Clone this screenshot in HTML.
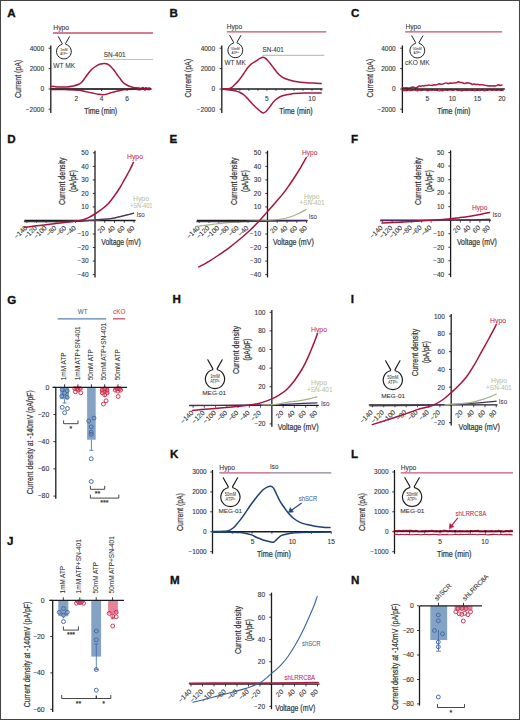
<!DOCTYPE html>
<html><head><meta charset="utf-8"><style>
html,body{margin:0;padding:0;background:#fff;}
body{width:520px;height:720px;overflow:hidden;}
svg{display:block;font-family:"Liberation Sans", sans-serif;}
</style></head><body>
<svg width="520" height="720" viewBox="0 0 520 720">
<rect x="0" y="0" width="520" height="720" fill="#fff"/>
<text x="7.3" y="17" font-size="11.6" fill="#111" stroke="#111" stroke-width="0.35" font-weight="bold">A</text>
<text x="53.3" y="30" font-size="6.5" fill="#333" stroke="#333" stroke-width="0.08" textLength="15.8" lengthAdjust="spacingAndGlyphs">Hypo</text>
<line x1="53" y1="33" x2="153" y2="33" stroke="#c9506b" stroke-width="1.3" />
<text x="103.8" y="57" font-size="6.5" fill="#333" stroke="#333" stroke-width="0.08" textLength="21.8" lengthAdjust="spacingAndGlyphs">SN-401</text>
<line x1="103.8" y1="59.5" x2="153" y2="59.5" stroke="#c0c4b4" stroke-width="1.2" />
<path d="M58.36,36.72 L62.21,43.49 L61.98,44.36 A7.39,7.39 0 1 0 65.83,44.36 L65.59,43.49 L69.44,36.72" stroke="#1a1a1a" stroke-width="0.9774999999999999" fill="none" stroke-linejoin="round" stroke-linecap="round" stroke-linecap="butt"/>
<text x="63.9" y="50.81" font-size="3.46" fill="#444" stroke="#444" stroke-width="0.05" text-anchor="middle" textLength="7.39" lengthAdjust="spacingAndGlyphs">1mM</text>
<text x="63.9" y="54.81" font-size="3.46" fill="#444" stroke="#444" stroke-width="0.05" text-anchor="middle" textLength="7.39" lengthAdjust="spacingAndGlyphs">ATPᴵⁿ</text>
<text x="53.2" y="67.7" font-size="6.6" fill="#333" stroke="#333" stroke-width="0.05" textLength="22" lengthAdjust="spacingAndGlyphs">WT MK</text>
<line x1="50.8" y1="45.5" x2="50.8" y2="113" stroke="#1c1c1c" stroke-width="1.3" />
<line x1="48.6" y1="48.2" x2="50.8" y2="48.2" stroke="#1c1c1c" stroke-width="0.9" />
<text x="44.1" y="50.55" font-size="6.5" fill="#333" stroke="#333" stroke-width="0.1" text-anchor="end">4000</text>
<line x1="48.6" y1="68.6" x2="50.8" y2="68.6" stroke="#1c1c1c" stroke-width="0.9" />
<text x="44.1" y="70.95" font-size="6.5" fill="#333" stroke="#333" stroke-width="0.1" text-anchor="end">2000</text>
<line x1="48.6" y1="89" x2="50.8" y2="89" stroke="#1c1c1c" stroke-width="0.9" />
<text x="44.1" y="91.35" font-size="6.5" fill="#333" stroke="#333" stroke-width="0.1" text-anchor="end">0</text>
<line x1="48.6" y1="109.2" x2="50.8" y2="109.2" stroke="#1c1c1c" stroke-width="0.9" />
<text x="44.1" y="111.55" font-size="6.5" fill="#333" stroke="#333" stroke-width="0.1" text-anchor="end">−2000</text>
<text transform="translate(20.9 78.9) rotate(-90)" font-size="9" fill="#333" stroke="#333" stroke-width="0.22" text-anchor="middle" textLength="38" lengthAdjust="spacingAndGlyphs">Current (pA)</text>
<line x1="50.8" y1="89" x2="150" y2="89" stroke="#1c1c1c" stroke-width="1.3" />
<line x1="76.3" y1="89" x2="76.3" y2="91" stroke="#1c1c1c" stroke-width="0.9" />
<text x="76.3" y="101" font-size="6.6" fill="#333" stroke="#333" stroke-width="0.1" text-anchor="middle">2</text>
<line x1="101.6" y1="89" x2="101.6" y2="91" stroke="#1c1c1c" stroke-width="0.9" />
<text x="101.6" y="101" font-size="6.6" fill="#333" stroke="#333" stroke-width="0.1" text-anchor="middle">4</text>
<line x1="127" y1="89" x2="127" y2="91" stroke="#1c1c1c" stroke-width="0.9" />
<text x="127" y="101" font-size="6.6" fill="#333" stroke="#333" stroke-width="0.1" text-anchor="middle">6</text>
<text x="100.7" y="114.2" font-size="8.7" fill="#333" stroke="#333" stroke-width="0.22" text-anchor="middle" textLength="32.9" lengthAdjust="spacingAndGlyphs">Time (min)</text>
<path d="M50.8,86.3 C51.42,86.35 53.2,86.5 54.5,86.6 C55.8,86.7 56.68,86.85 58.6,86.9 C60.52,86.95 63.53,87.07 66,86.9 C68.47,86.73 71.28,86.33 73.4,85.9 C75.52,85.47 77.28,84.95 78.7,84.3 C80.12,83.65 80.85,83.07 81.9,82 C82.95,80.93 83.95,79.32 85,77.9 C86.05,76.48 86.97,75.02 88.2,73.5 C89.43,71.98 90.82,70.2 92.4,68.8 C93.98,67.4 96.27,65.92 97.7,65.1 C99.13,64.28 99.95,64.17 101,63.9 C102.05,63.63 103.08,63.52 104,63.5 C104.92,63.48 105.7,63.57 106.5,63.8 C107.3,64.03 108.02,64.38 108.8,64.9 C109.58,65.42 110.4,66.08 111.2,66.9 C112,67.72 112.72,68.65 113.6,69.8 C114.48,70.95 115.45,72.38 116.5,73.8 C117.55,75.22 118.9,76.97 119.9,78.3 C120.9,79.63 121.62,80.82 122.5,81.8 C123.38,82.78 124.15,83.5 125.2,84.2 C126.25,84.9 127.57,85.5 128.8,86 C130.03,86.5 131.4,86.87 132.6,87.2 C133.8,87.53 134.93,87.83 136,88 C137.07,88.17 138.17,88.05 139,88.2 C139.83,88.35 140.33,89 141,88.9 C141.67,88.8 142.42,87.5 143,87.6 C143.58,87.7 144,89.47 144.5,89.5 C145,89.53 145.5,87.78 146,87.8 C146.5,87.82 147,89.57 147.5,89.6 C148,89.63 148.5,88.07 149,88 C149.5,87.93 150.25,89 150.5,89.2" stroke="#a8173c" stroke-width="1.5" fill="none" stroke-linejoin="round" stroke-linecap="round" />
<path d="M50.8,89.4 C53.17,89.43 60.7,89.52 65,89.6 C69.3,89.68 73.93,89.73 76.6,89.9 C79.27,90.07 79.6,90.33 81,90.6 C82.4,90.87 83.1,91.08 85,91.5 C86.9,91.92 90.23,92.65 92.4,93.1 C94.57,93.55 96.23,93.93 98,94.2 C99.77,94.47 101.67,94.68 103,94.7 C104.33,94.72 105,94.52 106,94.3 C107,94.08 108,93.72 109,93.4 C110,93.08 110.88,92.73 112,92.4 C113.12,92.07 114.2,91.77 115.7,91.4 C117.2,91.03 119.23,90.5 121,90.2 C122.77,89.9 123.97,89.77 126.3,89.6 C128.63,89.43 132.72,89.17 135,89.2 C137.28,89.23 138.67,89.93 140,89.8 C141.33,89.67 142.17,88.37 143,88.4 C143.83,88.43 144.33,89.98 145,90 C145.67,90.02 146.33,88.53 147,88.5 C147.67,88.47 148.42,89.75 149,89.8 C149.58,89.85 150.25,88.97 150.5,88.8" stroke="#a8173c" stroke-width="1.5" fill="none" stroke-linejoin="round" stroke-linecap="round" />
<line x1="50.8" y1="89" x2="150" y2="89" stroke="#222" stroke-width="0.9" />
<path d="M136,88.6 L150.5,88.9" stroke="#8e1533" stroke-width="2.2" fill="none" stroke-linejoin="round" stroke-linecap="round" />
<text x="169.5" y="17" font-size="11.6" fill="#111" stroke="#111" stroke-width="0.35" font-weight="bold">B</text>
<text x="226.8" y="28.8" font-size="6.5" fill="#333" stroke="#333" stroke-width="0.08" textLength="15.4" lengthAdjust="spacingAndGlyphs">Hypo</text>
<line x1="226.8" y1="31.9" x2="326.3" y2="31.9" stroke="#c9506b" stroke-width="1.3" />
<text x="262.5" y="52.4" font-size="6.5" fill="#333" stroke="#333" stroke-width="0.08" textLength="21.3" lengthAdjust="spacingAndGlyphs">SN-401</text>
<line x1="262.5" y1="55.4" x2="324.3" y2="55.4" stroke="#c0c4b4" stroke-width="1.2" />
<path d="M229.76,35.52 L233.61,42.29 L233.38,43.16 A7.39,7.39 0 1 0 237.23,43.16 L236.99,42.29 L240.84,35.52" stroke="#1a1a1a" stroke-width="0.9774999999999999" fill="none" stroke-linejoin="round" stroke-linecap="round" stroke-linecap="butt"/>
<text x="235.3" y="49.61" font-size="3.46" fill="#444" stroke="#444" stroke-width="0.05" text-anchor="middle" textLength="8.62" lengthAdjust="spacingAndGlyphs">50mM</text>
<text x="235.3" y="53.61" font-size="3.46" fill="#444" stroke="#444" stroke-width="0.05" text-anchor="middle" textLength="7.39" lengthAdjust="spacingAndGlyphs">ATPᴵⁿ</text>
<text x="224.4" y="64.7" font-size="6.6" fill="#333" stroke="#333" stroke-width="0.05" textLength="21.4" lengthAdjust="spacingAndGlyphs">WT MK</text>
<line x1="221.8" y1="45.5" x2="221.8" y2="113" stroke="#1c1c1c" stroke-width="1.3" />
<line x1="219.6" y1="48.2" x2="221.8" y2="48.2" stroke="#1c1c1c" stroke-width="0.9" />
<text x="215.1" y="50.55" font-size="6.5" fill="#333" stroke="#333" stroke-width="0.1" text-anchor="end">4000</text>
<line x1="219.6" y1="68.6" x2="221.8" y2="68.6" stroke="#1c1c1c" stroke-width="0.9" />
<text x="215.1" y="70.95" font-size="6.5" fill="#333" stroke="#333" stroke-width="0.1" text-anchor="end">2000</text>
<line x1="219.6" y1="89" x2="221.8" y2="89" stroke="#1c1c1c" stroke-width="0.9" />
<text x="215.1" y="91.35" font-size="6.5" fill="#333" stroke="#333" stroke-width="0.1" text-anchor="end">0</text>
<line x1="219.6" y1="109.2" x2="221.8" y2="109.2" stroke="#1c1c1c" stroke-width="0.9" />
<text x="215.1" y="111.55" font-size="6.5" fill="#333" stroke="#333" stroke-width="0.1" text-anchor="end">−2000</text>
<text transform="translate(191.3 78.2) rotate(-90)" font-size="9" fill="#333" stroke="#333" stroke-width="0.22" text-anchor="middle" textLength="38.6" lengthAdjust="spacingAndGlyphs">Current (pA)</text>
<line x1="221.8" y1="89" x2="322.5" y2="89" stroke="#1c1c1c" stroke-width="1.3" />
<line x1="221.8" y1="89" x2="221.8" y2="90.8" stroke="#1c1c1c" stroke-width="0.8" />
<line x1="230.82" y1="89" x2="230.82" y2="90.8" stroke="#1c1c1c" stroke-width="0.8" />
<line x1="239.84" y1="89" x2="239.84" y2="90.8" stroke="#1c1c1c" stroke-width="0.8" />
<line x1="248.86" y1="89" x2="248.86" y2="90.8" stroke="#1c1c1c" stroke-width="0.8" />
<line x1="257.88" y1="89" x2="257.88" y2="90.8" stroke="#1c1c1c" stroke-width="0.8" />
<line x1="266.9" y1="89" x2="266.9" y2="90.8" stroke="#1c1c1c" stroke-width="0.8" />
<line x1="275.92" y1="89" x2="275.92" y2="90.8" stroke="#1c1c1c" stroke-width="0.8" />
<line x1="284.94" y1="89" x2="284.94" y2="90.8" stroke="#1c1c1c" stroke-width="0.8" />
<line x1="293.96" y1="89" x2="293.96" y2="90.8" stroke="#1c1c1c" stroke-width="0.8" />
<line x1="302.98" y1="89" x2="302.98" y2="90.8" stroke="#1c1c1c" stroke-width="0.8" />
<line x1="312" y1="89" x2="312" y2="90.8" stroke="#1c1c1c" stroke-width="0.8" />
<line x1="321.02" y1="89" x2="321.02" y2="90.8" stroke="#1c1c1c" stroke-width="0.8" />
<text x="266.9" y="101" font-size="6.6" fill="#333" stroke="#333" stroke-width="0.1" text-anchor="middle">5</text>
<text x="312" y="101" font-size="6.6" fill="#333" stroke="#333" stroke-width="0.1" text-anchor="middle">10</text>
<text x="296" y="113.6" font-size="8.7" fill="#333" stroke="#333" stroke-width="0.22" text-anchor="middle" textLength="33.3" lengthAdjust="spacingAndGlyphs">Time (min)</text>
<path d="M221.8,89 C222.33,88.98 223.88,88.95 225,88.9 C226.12,88.85 227.5,88.85 228.5,88.7 C229.5,88.55 230.12,88.52 231,88 C231.88,87.48 232.55,86.8 233.8,85.6 C235.05,84.4 236.95,82.65 238.5,80.8 C240.05,78.95 241.57,76.67 243.1,74.5 C244.63,72.33 246.35,69.52 247.7,67.8 C249.05,66.08 249.85,65.3 251.2,64.2 C252.55,63.1 254.33,62.17 255.8,61.2 C257.27,60.23 258.78,59.07 260,58.4 C261.22,57.73 262.07,57.12 263.1,57.2 C264.13,57.28 265.05,57.9 266.2,58.9 C267.35,59.9 268.73,61.65 270,63.2 C271.27,64.75 272.55,66.57 273.8,68.2 C275.05,69.83 276.27,71.65 277.5,73 C278.73,74.35 279.95,75.38 281.2,76.3 C282.45,77.22 283.33,77.8 285,78.5 C286.67,79.2 289.12,79.95 291.2,80.5 C293.28,81.05 295.4,81.45 297.5,81.8 C299.6,82.15 301.72,82.4 303.8,82.6 C305.88,82.8 307.93,82.9 310,83 C312.07,83.1 314.33,83.12 316.2,83.2 C318.07,83.28 320.37,83.45 321.2,83.5" stroke="#a8173c" stroke-width="1.5" fill="none" stroke-linejoin="round" stroke-linecap="round" />
<path d="M221.8,89.2 C223.17,89.33 227.63,89.7 230,90 C232.37,90.3 234.33,90.58 236,91 C237.67,91.42 238.67,91.83 240,92.5 C241.33,93.17 242.67,93.92 244,95 C245.33,96.08 246.67,97.58 248,99 C249.33,100.42 250.67,102.08 252,103.5 C253.33,104.92 254.67,106.25 256,107.5 C257.33,108.75 258.83,110.1 260,111 C261.17,111.9 261.97,112.87 263,112.9 C264.03,112.93 265.03,112.25 266.2,111.2 C267.37,110.15 268.73,108.2 270,106.6 C271.27,105 272.55,102.98 273.8,101.6 C275.05,100.22 276.05,99.27 277.5,98.3 C278.95,97.33 280.22,96.53 282.5,95.8 C284.78,95.07 287.65,94.35 291.2,93.9 C294.75,93.45 298.8,93.25 303.8,93.1 C308.8,92.95 318.3,93.02 321.2,93" stroke="#a8173c" stroke-width="1.5" fill="none" stroke-linejoin="round" stroke-linecap="round" />
<text x="351" y="17" font-size="11.6" fill="#111" stroke="#111" stroke-width="0.35" font-weight="bold">C</text>
<text x="405.5" y="28.7" font-size="6.5" fill="#333" stroke="#333" stroke-width="0.08" textLength="15.5" lengthAdjust="spacingAndGlyphs">Hypo</text>
<line x1="405.2" y1="31.8" x2="502" y2="31.8" stroke="#c9506b" stroke-width="1.3" />
<path d="M411.76,35.82 L415.61,42.59 L415.38,43.46 A7.39,7.39 0 1 0 419.23,43.46 L418.99,42.59 L422.84,35.82" stroke="#1a1a1a" stroke-width="0.9774999999999999" fill="none" stroke-linejoin="round" stroke-linecap="round" stroke-linecap="butt"/>
<text x="417.3" y="49.91" font-size="3.46" fill="#444" stroke="#444" stroke-width="0.05" text-anchor="middle" textLength="8.62" lengthAdjust="spacingAndGlyphs">50mM</text>
<text x="417.3" y="53.91" font-size="3.46" fill="#444" stroke="#444" stroke-width="0.05" text-anchor="middle" textLength="7.39" lengthAdjust="spacingAndGlyphs">ATPᴵⁿ</text>
<text x="405" y="64.7" font-size="6.6" fill="#333" stroke="#333" stroke-width="0.05" textLength="24.6" lengthAdjust="spacingAndGlyphs">cKO MK</text>
<line x1="402.4" y1="45.5" x2="402.4" y2="113" stroke="#1c1c1c" stroke-width="1.3" />
<line x1="400.2" y1="48.2" x2="402.4" y2="48.2" stroke="#1c1c1c" stroke-width="0.9" />
<text x="395.7" y="50.55" font-size="6.5" fill="#333" stroke="#333" stroke-width="0.1" text-anchor="end">4000</text>
<line x1="400.2" y1="68.6" x2="402.4" y2="68.6" stroke="#1c1c1c" stroke-width="0.9" />
<text x="395.7" y="70.95" font-size="6.5" fill="#333" stroke="#333" stroke-width="0.1" text-anchor="end">2000</text>
<line x1="400.2" y1="89" x2="402.4" y2="89" stroke="#1c1c1c" stroke-width="0.9" />
<text x="395.7" y="91.35" font-size="6.5" fill="#333" stroke="#333" stroke-width="0.1" text-anchor="end">0</text>
<line x1="400.2" y1="109.2" x2="402.4" y2="109.2" stroke="#1c1c1c" stroke-width="0.9" />
<text x="395.7" y="111.55" font-size="6.5" fill="#333" stroke="#333" stroke-width="0.1" text-anchor="end">−2000</text>
<text transform="translate(372.8 78.2) rotate(-90)" font-size="9" fill="#333" stroke="#333" stroke-width="0.22" text-anchor="middle" textLength="38.6" lengthAdjust="spacingAndGlyphs">Current (pA)</text>
<path d="M402.3,87.59 L404.23,87.93 L406.15,87.69 L408.07,87.95 L410,87.95 L411.85,87.23 L413.7,87.12 L415.55,88.05 L417.4,87.31 L419.2,85.88 L420.6,86.39 L422.22,85.66 L423.83,86 L425.45,85.47 L427.07,85.57 L428.68,84.88 L430.3,85.36 L432.08,85.44 L433.87,84.83 L435.65,84.89 L437.43,84.61 L439.22,83.68 L441,84.31 L442.8,83.93 L444.6,83.39 L446.4,82.89 L448.2,83.71 L450,83.05 L451.8,83.16 L453.43,83.1 L455.05,82.66 L456.68,82.66 L458.3,81.77 L460.02,82.54 L461.74,82.39 L463.46,83.26 L465.18,83.47 L466.9,82.82 L468.7,83.08 L470.5,83.39 L472.3,84.51 L474.1,84.09 L475.9,84.54 L477.7,84.36 L479.5,84.76 L481.3,84.76 L483.1,84.87 L484.9,85.3 L486.7,85.45 L488.5,85.99 L490.12,85.69 L491.75,85.96 L493.38,85.85 L495,85.99 L496.75,85.51 L498.5,84.8 L500.25,85.53 L502,85" stroke="#b81a3c" stroke-width="1.5" fill="none" stroke-linejoin="round" stroke-linecap="round" />
<path d="M402.3,90.76 L403.85,90.7 L405.4,90.37 L406.95,90.51 L408.5,90.01 L410.05,90.63 L411.6,90.37 L413.15,90.08 L414.7,89.86 L416.25,90.65 L417.8,90.79 L419.35,89.89 L420.9,90.6 L422.45,90.21 L424,89.95 L425.55,90.09 L427.1,90.57 L428.65,90.67 L430.2,89.84 L431.75,90.41 L433.3,89.84 L434.85,90.52 L436.4,90.13 L437.95,90.68 L439.5,90.78 L441.05,90.31 L442.6,90.8 L444.15,90.11 L445.7,89.88 L447.25,90.4 L448.8,89.83 L450.35,90 L451.9,90.21 L453.45,90.41 L455,89.96 L456.55,89.84 L458.1,90.67 L459.65,90.11 L461.2,90.76 L462.75,90.7 L464.3,90.18 L465.85,90.26 L467.4,90.32 L468.95,90.44 L470.5,90.4 L472.05,90.36 L473.6,90.42 L475.15,90.74 L476.7,90.31 L478.25,90.23 L479.8,90.52 L481.35,90.04 L482.9,90.1 L484.45,90.78 L486,90.32 L487.55,90.35 L489.1,89.81 L490.65,90.22 L492.2,90.38 L493.75,89.82 L495.3,90.42 L496.85,90.43 L498.4,89.86 L499.95,90.43 L501.5,90.27 L503.05,90.48" stroke="#b81a3c" stroke-width="1.3" fill="none" stroke-linejoin="round" stroke-linecap="round" />
<line x1="402.4" y1="89" x2="504.8" y2="89" stroke="#1c1c1c" stroke-width="1.5" />
<line x1="402.4" y1="89" x2="402.4" y2="90.6" stroke="#1c1c1c" stroke-width="0.7" />
<line x1="407.38" y1="89" x2="407.38" y2="90.6" stroke="#1c1c1c" stroke-width="0.7" />
<line x1="412.36" y1="89" x2="412.36" y2="90.6" stroke="#1c1c1c" stroke-width="0.7" />
<line x1="417.34" y1="89" x2="417.34" y2="90.6" stroke="#1c1c1c" stroke-width="0.7" />
<line x1="422.32" y1="89" x2="422.32" y2="90.6" stroke="#1c1c1c" stroke-width="0.7" />
<line x1="427.3" y1="89" x2="427.3" y2="90.6" stroke="#1c1c1c" stroke-width="0.7" />
<line x1="432.28" y1="89" x2="432.28" y2="90.6" stroke="#1c1c1c" stroke-width="0.7" />
<line x1="437.26" y1="89" x2="437.26" y2="90.6" stroke="#1c1c1c" stroke-width="0.7" />
<line x1="442.24" y1="89" x2="442.24" y2="90.6" stroke="#1c1c1c" stroke-width="0.7" />
<line x1="447.22" y1="89" x2="447.22" y2="90.6" stroke="#1c1c1c" stroke-width="0.7" />
<line x1="452.2" y1="89" x2="452.2" y2="90.6" stroke="#1c1c1c" stroke-width="0.7" />
<line x1="457.18" y1="89" x2="457.18" y2="90.6" stroke="#1c1c1c" stroke-width="0.7" />
<line x1="462.16" y1="89" x2="462.16" y2="90.6" stroke="#1c1c1c" stroke-width="0.7" />
<line x1="467.14" y1="89" x2="467.14" y2="90.6" stroke="#1c1c1c" stroke-width="0.7" />
<line x1="472.12" y1="89" x2="472.12" y2="90.6" stroke="#1c1c1c" stroke-width="0.7" />
<line x1="477.1" y1="89" x2="477.1" y2="90.6" stroke="#1c1c1c" stroke-width="0.7" />
<line x1="482.08" y1="89" x2="482.08" y2="90.6" stroke="#1c1c1c" stroke-width="0.7" />
<line x1="487.06" y1="89" x2="487.06" y2="90.6" stroke="#1c1c1c" stroke-width="0.7" />
<line x1="492.04" y1="89" x2="492.04" y2="90.6" stroke="#1c1c1c" stroke-width="0.7" />
<line x1="497.02" y1="89" x2="497.02" y2="90.6" stroke="#1c1c1c" stroke-width="0.7" />
<line x1="502" y1="89" x2="502" y2="90.6" stroke="#1c1c1c" stroke-width="0.7" />
<text x="427.3" y="101" font-size="6.6" fill="#333" stroke="#333" stroke-width="0.1" text-anchor="middle">5</text>
<text x="452.3" y="101" font-size="6.6" fill="#333" stroke="#333" stroke-width="0.1" text-anchor="middle">10</text>
<text x="477.5" y="101" font-size="6.6" fill="#333" stroke="#333" stroke-width="0.1" text-anchor="middle">15</text>
<text x="501.8" y="101" font-size="6.6" fill="#333" stroke="#333" stroke-width="0.1" text-anchor="middle">20</text>
<text x="453.8" y="113.6" font-size="8.7" fill="#333" stroke="#333" stroke-width="0.22" text-anchor="middle" textLength="33.3" lengthAdjust="spacingAndGlyphs">Time (min)</text>
<text x="7.3" y="143" font-size="11.6" fill="#111" stroke="#111" stroke-width="0.35" font-weight="bold">D</text>
<line x1="95" y1="150.65" x2="95" y2="277.42" stroke="#1c1c1c" stroke-width="1.3" />
<line x1="92.8" y1="152.85" x2="95" y2="152.85" stroke="#1c1c1c" stroke-width="0.9" />
<text x="88.6" y="155.2" font-size="6.5" fill="#333" stroke="#333" stroke-width="0.1" text-anchor="end">50</text>
<line x1="92.8" y1="166.38" x2="95" y2="166.38" stroke="#1c1c1c" stroke-width="0.9" />
<text x="88.6" y="168.73" font-size="6.5" fill="#333" stroke="#333" stroke-width="0.1" text-anchor="end">40</text>
<line x1="92.8" y1="179.91" x2="95" y2="179.91" stroke="#1c1c1c" stroke-width="0.9" />
<text x="88.6" y="182.26" font-size="6.5" fill="#333" stroke="#333" stroke-width="0.1" text-anchor="end">30</text>
<line x1="92.8" y1="193.44" x2="95" y2="193.44" stroke="#1c1c1c" stroke-width="0.9" />
<text x="88.6" y="195.79" font-size="6.5" fill="#333" stroke="#333" stroke-width="0.1" text-anchor="end">20</text>
<line x1="92.8" y1="206.97" x2="95" y2="206.97" stroke="#1c1c1c" stroke-width="0.9" />
<text x="88.6" y="209.32" font-size="6.5" fill="#333" stroke="#333" stroke-width="0.1" text-anchor="end">10</text>
<line x1="92.8" y1="220.5" x2="95" y2="220.5" stroke="#1c1c1c" stroke-width="0.9" />
<line x1="92.8" y1="234.03" x2="95" y2="234.03" stroke="#1c1c1c" stroke-width="0.9" />
<text x="88.6" y="236.38" font-size="6.5" fill="#333" stroke="#333" stroke-width="0.1" text-anchor="end">−10</text>
<line x1="92.8" y1="247.56" x2="95" y2="247.56" stroke="#1c1c1c" stroke-width="0.9" />
<text x="88.6" y="249.91" font-size="6.5" fill="#333" stroke="#333" stroke-width="0.1" text-anchor="end">−20</text>
<line x1="92.8" y1="261.09" x2="95" y2="261.09" stroke="#1c1c1c" stroke-width="0.9" />
<text x="88.6" y="263.44" font-size="6.5" fill="#333" stroke="#333" stroke-width="0.1" text-anchor="end">−30</text>
<line x1="92.8" y1="274.62" x2="95" y2="274.62" stroke="#1c1c1c" stroke-width="0.9" />
<text x="88.6" y="276.97" font-size="6.5" fill="#333" stroke="#333" stroke-width="0.1" text-anchor="end">−40</text>
<line x1="24.4" y1="220.5" x2="135.5" y2="220.5" stroke="#1c1c1c" stroke-width="1.3" />
<line x1="26.75" y1="220.5" x2="26.75" y2="222.9" stroke="#1c1c1c" stroke-width="0.8" />
<text transform="translate(27.55 228.5) rotate(-45)" font-size="6.8" fill="#333" stroke="#333" stroke-width="0.07" text-anchor="end">−140</text>
<line x1="36.5" y1="220.5" x2="36.5" y2="222.9" stroke="#1c1c1c" stroke-width="0.8" />
<text transform="translate(37.3 228.5) rotate(-45)" font-size="6.8" fill="#333" stroke="#333" stroke-width="0.07" text-anchor="end">−120</text>
<line x1="46.25" y1="220.5" x2="46.25" y2="222.9" stroke="#1c1c1c" stroke-width="0.8" />
<text transform="translate(47.05 228.5) rotate(-45)" font-size="6.8" fill="#333" stroke="#333" stroke-width="0.07" text-anchor="end">−100</text>
<line x1="56" y1="220.5" x2="56" y2="222.9" stroke="#1c1c1c" stroke-width="0.8" />
<text transform="translate(56.8 228.5) rotate(-45)" font-size="6.8" fill="#333" stroke="#333" stroke-width="0.07" text-anchor="end">−80</text>
<line x1="65.75" y1="220.5" x2="65.75" y2="222.9" stroke="#1c1c1c" stroke-width="0.8" />
<text transform="translate(66.55 228.5) rotate(-45)" font-size="6.8" fill="#333" stroke="#333" stroke-width="0.07" text-anchor="end">−60</text>
<line x1="75.5" y1="220.5" x2="75.5" y2="222.9" stroke="#1c1c1c" stroke-width="0.8" />
<text transform="translate(76.3 228.5) rotate(-45)" font-size="6.8" fill="#333" stroke="#333" stroke-width="0.07" text-anchor="end">−40</text>
<line x1="104.75" y1="220.5" x2="104.75" y2="222.9" stroke="#1c1c1c" stroke-width="0.8" />
<text transform="translate(105.55 228.5) rotate(-45)" font-size="6.8" fill="#333" stroke="#333" stroke-width="0.07" text-anchor="end">20</text>
<line x1="114.5" y1="220.5" x2="114.5" y2="222.9" stroke="#1c1c1c" stroke-width="0.8" />
<text transform="translate(115.3 228.5) rotate(-45)" font-size="6.8" fill="#333" stroke="#333" stroke-width="0.07" text-anchor="end">40</text>
<line x1="124.25" y1="220.5" x2="124.25" y2="222.9" stroke="#1c1c1c" stroke-width="0.8" />
<text transform="translate(125.05 228.5) rotate(-45)" font-size="6.8" fill="#333" stroke="#333" stroke-width="0.07" text-anchor="end">60</text>
<line x1="134" y1="220.5" x2="134" y2="222.9" stroke="#1c1c1c" stroke-width="0.8" />
<text transform="translate(134.8 228.5) rotate(-45)" font-size="6.8" fill="#333" stroke="#333" stroke-width="0.07" text-anchor="end">80</text>
<text transform="translate(64.7 181.2) rotate(-90)" font-size="8.4" fill="#333" stroke="#333" stroke-width="0.22" text-anchor="middle" textLength="47.5" lengthAdjust="spacingAndGlyphs">Current density</text>
<text transform="translate(75.7 181) rotate(-90)" font-size="8.4" fill="#333" stroke="#333" stroke-width="0.22" text-anchor="middle" textLength="22" lengthAdjust="spacingAndGlyphs">(pA/pF)</text>
<text x="101.3" y="244.7" font-size="8.6" fill="#333" stroke="#333" stroke-width="0.22" textLength="39.5" lengthAdjust="spacingAndGlyphs">Voltage (mV)</text>
<path d="M24.4,221.5 C28.67,221.52 41.57,221.62 50,221.6 C58.43,221.58 69.17,221.52 75,221.4 C80.83,221.28 81.67,221.15 85,220.9 C88.33,220.65 91.67,220.18 95,219.9 C98.33,219.62 102.17,219.45 105,219.2 C107.83,218.95 109.7,218.78 112,218.4 C114.3,218.02 116.47,217.43 118.8,216.9 C121.13,216.37 123.53,215.82 126,215.2 C128.47,214.58 132.33,213.53 133.6,213.2" stroke="#a2b286" stroke-width="1.2" fill="none" stroke-linejoin="round" stroke-linecap="round" />
<path d="M24.4,221.6 C28.67,221.62 41.57,221.72 50,221.7 C58.43,221.68 69.17,221.63 75,221.5 C80.83,221.37 81.67,221.18 85,220.9 C88.33,220.62 91.67,220.08 95,219.8 C98.33,219.52 102.17,219.43 105,219.2 C107.83,218.97 109.7,218.78 112,218.4 C114.3,218.02 116.47,217.43 118.8,216.9 C121.13,216.37 123.53,215.83 126,215.2 C128.47,214.57 132.33,213.45 133.6,213.1" stroke="#4b2d63" stroke-width="1.25" fill="none" stroke-linejoin="round" stroke-linecap="round" />
<path d="M24.4,227.4 C27,227.07 34.07,226.13 40,225.4 C45.93,224.67 54.17,223.7 60,223 C65.83,222.3 71.25,221.7 75,221.2 C78.75,220.7 80.25,220.58 82.5,220 C84.75,219.42 86.44,218.7 88.5,217.7 C90.56,216.7 92.68,215.38 94.85,214 C97.02,212.62 99.22,211.17 101.5,209.4 C103.78,207.63 106.28,205.75 108.5,203.4 C110.72,201.05 112.88,197.95 114.8,195.3 C116.72,192.65 118.3,190.28 120,187.5 C121.7,184.72 123.42,181.43 125,178.6 C126.58,175.77 128.1,173.18 129.5,170.5 C130.9,167.82 132.75,163.83 133.4,162.5" stroke="#a8153a" stroke-width="1.5" fill="none" stroke-linejoin="round" stroke-linecap="round" />
<text x="127" y="158.8" font-size="6.8" fill="#c42a50" stroke="#c42a50" stroke-width="0.06" textLength="16" lengthAdjust="spacingAndGlyphs">Hypo</text>
<text x="133" y="201.2" font-size="6.8" fill="#b9bf9c" stroke="#b9bf9c" stroke-width="0.06" textLength="16" lengthAdjust="spacingAndGlyphs">Hypo</text>
<text x="130" y="207.6" font-size="6.8" fill="#b9bf9c" stroke="#b9bf9c" stroke-width="0.06" textLength="22.5" lengthAdjust="spacingAndGlyphs">+SN-401</text>
<text x="136.6" y="217" font-size="6.8" fill="#4c3464" stroke="#4c3464" stroke-width="0.06" textLength="8.2" lengthAdjust="spacingAndGlyphs">Iso</text>
<text x="169.5" y="143" font-size="11.6" fill="#111" stroke="#111" stroke-width="0.35" font-weight="bold">E</text>
<line x1="267.5" y1="150.65" x2="267.5" y2="277.42" stroke="#1c1c1c" stroke-width="1.3" />
<line x1="265.3" y1="152.85" x2="267.5" y2="152.85" stroke="#1c1c1c" stroke-width="0.9" />
<text x="261.1" y="155.2" font-size="6.5" fill="#333" stroke="#333" stroke-width="0.1" text-anchor="end">50</text>
<line x1="265.3" y1="166.38" x2="267.5" y2="166.38" stroke="#1c1c1c" stroke-width="0.9" />
<text x="261.1" y="168.73" font-size="6.5" fill="#333" stroke="#333" stroke-width="0.1" text-anchor="end">40</text>
<line x1="265.3" y1="179.91" x2="267.5" y2="179.91" stroke="#1c1c1c" stroke-width="0.9" />
<text x="261.1" y="182.26" font-size="6.5" fill="#333" stroke="#333" stroke-width="0.1" text-anchor="end">30</text>
<line x1="265.3" y1="193.44" x2="267.5" y2="193.44" stroke="#1c1c1c" stroke-width="0.9" />
<text x="261.1" y="195.79" font-size="6.5" fill="#333" stroke="#333" stroke-width="0.1" text-anchor="end">20</text>
<line x1="265.3" y1="206.97" x2="267.5" y2="206.97" stroke="#1c1c1c" stroke-width="0.9" />
<text x="261.1" y="209.32" font-size="6.5" fill="#333" stroke="#333" stroke-width="0.1" text-anchor="end">10</text>
<line x1="265.3" y1="220.5" x2="267.5" y2="220.5" stroke="#1c1c1c" stroke-width="0.9" />
<line x1="265.3" y1="234.03" x2="267.5" y2="234.03" stroke="#1c1c1c" stroke-width="0.9" />
<text x="261.1" y="236.38" font-size="6.5" fill="#333" stroke="#333" stroke-width="0.1" text-anchor="end">−10</text>
<line x1="265.3" y1="247.56" x2="267.5" y2="247.56" stroke="#1c1c1c" stroke-width="0.9" />
<text x="261.1" y="249.91" font-size="6.5" fill="#333" stroke="#333" stroke-width="0.1" text-anchor="end">−20</text>
<line x1="265.3" y1="261.09" x2="267.5" y2="261.09" stroke="#1c1c1c" stroke-width="0.9" />
<text x="261.1" y="263.44" font-size="6.5" fill="#333" stroke="#333" stroke-width="0.1" text-anchor="end">−30</text>
<line x1="265.3" y1="274.62" x2="267.5" y2="274.62" stroke="#1c1c1c" stroke-width="0.9" />
<text x="261.1" y="276.97" font-size="6.5" fill="#333" stroke="#333" stroke-width="0.1" text-anchor="end">−40</text>
<line x1="196.8" y1="220.5" x2="307.3" y2="220.5" stroke="#1c1c1c" stroke-width="1.3" />
<line x1="199.25" y1="220.5" x2="199.25" y2="222.9" stroke="#1c1c1c" stroke-width="0.8" />
<text transform="translate(200.05 228.5) rotate(-45)" font-size="6.8" fill="#333" stroke="#333" stroke-width="0.07" text-anchor="end">−140</text>
<line x1="209" y1="220.5" x2="209" y2="222.9" stroke="#1c1c1c" stroke-width="0.8" />
<text transform="translate(209.8 228.5) rotate(-45)" font-size="6.8" fill="#333" stroke="#333" stroke-width="0.07" text-anchor="end">−120</text>
<line x1="218.75" y1="220.5" x2="218.75" y2="222.9" stroke="#1c1c1c" stroke-width="0.8" />
<text transform="translate(219.55 228.5) rotate(-45)" font-size="6.8" fill="#333" stroke="#333" stroke-width="0.07" text-anchor="end">−100</text>
<line x1="228.5" y1="220.5" x2="228.5" y2="222.9" stroke="#1c1c1c" stroke-width="0.8" />
<text transform="translate(229.3 228.5) rotate(-45)" font-size="6.8" fill="#333" stroke="#333" stroke-width="0.07" text-anchor="end">−80</text>
<line x1="238.25" y1="220.5" x2="238.25" y2="222.9" stroke="#1c1c1c" stroke-width="0.8" />
<text transform="translate(239.05 228.5) rotate(-45)" font-size="6.8" fill="#333" stroke="#333" stroke-width="0.07" text-anchor="end">−60</text>
<line x1="248" y1="220.5" x2="248" y2="222.9" stroke="#1c1c1c" stroke-width="0.8" />
<text transform="translate(248.8 228.5) rotate(-45)" font-size="6.8" fill="#333" stroke="#333" stroke-width="0.07" text-anchor="end">−40</text>
<line x1="277.25" y1="220.5" x2="277.25" y2="222.9" stroke="#1c1c1c" stroke-width="0.8" />
<text transform="translate(278.05 228.5) rotate(-45)" font-size="6.8" fill="#333" stroke="#333" stroke-width="0.07" text-anchor="end">20</text>
<line x1="287" y1="220.5" x2="287" y2="222.9" stroke="#1c1c1c" stroke-width="0.8" />
<text transform="translate(287.8 228.5) rotate(-45)" font-size="6.8" fill="#333" stroke="#333" stroke-width="0.07" text-anchor="end">40</text>
<line x1="296.75" y1="220.5" x2="296.75" y2="222.9" stroke="#1c1c1c" stroke-width="0.8" />
<text transform="translate(297.55 228.5) rotate(-45)" font-size="6.8" fill="#333" stroke="#333" stroke-width="0.07" text-anchor="end">60</text>
<line x1="306.5" y1="220.5" x2="306.5" y2="222.9" stroke="#1c1c1c" stroke-width="0.8" />
<text transform="translate(307.3 228.5) rotate(-45)" font-size="6.8" fill="#333" stroke="#333" stroke-width="0.07" text-anchor="end">80</text>
<text transform="translate(237.2 181.2) rotate(-90)" font-size="8.4" fill="#333" stroke="#333" stroke-width="0.22" text-anchor="middle" textLength="47.5" lengthAdjust="spacingAndGlyphs">Current density</text>
<text transform="translate(248.1 181) rotate(-90)" font-size="8.4" fill="#333" stroke="#333" stroke-width="0.22" text-anchor="middle" textLength="22" lengthAdjust="spacingAndGlyphs">(pA/pF)</text>
<text x="273" y="245" font-size="8.6" fill="#333" stroke="#333" stroke-width="0.22" textLength="40.8" lengthAdjust="spacingAndGlyphs">Voltage (mV)</text>
<path d="M196.8,226.4 C198.57,226.18 203.07,225.65 207.4,225.1 C211.73,224.55 217.67,223.62 222.8,223.1 C227.93,222.58 233.08,222.32 238.2,222 C243.32,221.68 248.62,221.43 253.5,221.2 C258.38,220.97 263.08,220.9 267.5,220.6 C271.92,220.3 276.25,220 280,219.4 C283.75,218.8 287,217.93 290,217 C293,216.07 295.3,215.05 298,213.8 C300.7,212.55 304.83,210.22 306.2,209.5" stroke="#a2b286" stroke-width="1.25" fill="none" stroke-linejoin="round" stroke-linecap="round" />
<path d="M196.8,221.6 C202.33,221.6 219.47,221.63 230,221.6 C240.53,221.57 251.67,221.5 260,221.4 C268.33,221.3 272.12,221.13 280,221 C287.88,220.87 302.75,220.67 307.3,220.6" stroke="#4b2d63" stroke-width="1.2" fill="none" stroke-linejoin="round" stroke-linecap="round" />
<path d="M198.8,266.9 C200.5,265.97 205.68,263.28 209,261.3 C212.32,259.32 215.42,257.25 218.75,255 C222.08,252.75 225.46,250.47 229,247.8 C232.54,245.13 236.5,241.93 240,239 C243.5,236.07 246.77,233.23 250,230.2 C253.23,227.17 256.48,223.9 259.4,220.8 C262.32,217.7 264.9,214.57 267.5,211.6 C270.1,208.63 272.5,205.87 275,203 C277.5,200.13 280.17,197.32 282.5,194.4 C284.83,191.48 286.92,188.48 289,185.5 C291.08,182.52 293,179.62 295,176.5 C297,173.38 299.13,169.95 301,166.8 C302.87,163.65 305.33,159.13 306.2,157.6" stroke="#a8153a" stroke-width="1.5" fill="none" stroke-linejoin="round" stroke-linecap="round" />
<text x="302" y="154.6" font-size="6.8" fill="#c42a50" stroke="#c42a50" stroke-width="0.06" textLength="15.5" lengthAdjust="spacingAndGlyphs">Hypo</text>
<text x="304" y="198.8" font-size="6.8" fill="#b9bf9c" stroke="#b9bf9c" stroke-width="0.06" textLength="15.5" lengthAdjust="spacingAndGlyphs">Hypo</text>
<text x="299.6" y="205.4" font-size="6.8" fill="#b9bf9c" stroke="#b9bf9c" stroke-width="0.06" textLength="24.8" lengthAdjust="spacingAndGlyphs">+SN-401</text>
<text x="308.8" y="218.7" font-size="6.8" fill="#4c3464" stroke="#4c3464" stroke-width="0.06" textLength="8.2" lengthAdjust="spacingAndGlyphs">Iso</text>
<text x="351" y="143" font-size="11.6" fill="#111" stroke="#111" stroke-width="0.35" font-weight="bold">F</text>
<line x1="450.6" y1="150.35" x2="450.6" y2="277.12" stroke="#1c1c1c" stroke-width="1.3" />
<line x1="448.4" y1="152.55" x2="450.6" y2="152.55" stroke="#1c1c1c" stroke-width="0.9" />
<text x="444.2" y="154.9" font-size="6.5" fill="#333" stroke="#333" stroke-width="0.1" text-anchor="end">50</text>
<line x1="448.4" y1="166.08" x2="450.6" y2="166.08" stroke="#1c1c1c" stroke-width="0.9" />
<text x="444.2" y="168.43" font-size="6.5" fill="#333" stroke="#333" stroke-width="0.1" text-anchor="end">40</text>
<line x1="448.4" y1="179.61" x2="450.6" y2="179.61" stroke="#1c1c1c" stroke-width="0.9" />
<text x="444.2" y="181.96" font-size="6.5" fill="#333" stroke="#333" stroke-width="0.1" text-anchor="end">30</text>
<line x1="448.4" y1="193.14" x2="450.6" y2="193.14" stroke="#1c1c1c" stroke-width="0.9" />
<text x="444.2" y="195.49" font-size="6.5" fill="#333" stroke="#333" stroke-width="0.1" text-anchor="end">20</text>
<line x1="448.4" y1="206.67" x2="450.6" y2="206.67" stroke="#1c1c1c" stroke-width="0.9" />
<text x="444.2" y="209.02" font-size="6.5" fill="#333" stroke="#333" stroke-width="0.1" text-anchor="end">10</text>
<line x1="448.4" y1="220.2" x2="450.6" y2="220.2" stroke="#1c1c1c" stroke-width="0.9" />
<line x1="448.4" y1="233.73" x2="450.6" y2="233.73" stroke="#1c1c1c" stroke-width="0.9" />
<text x="444.2" y="236.08" font-size="6.5" fill="#333" stroke="#333" stroke-width="0.1" text-anchor="end">−10</text>
<line x1="448.4" y1="247.26" x2="450.6" y2="247.26" stroke="#1c1c1c" stroke-width="0.9" />
<text x="444.2" y="249.61" font-size="6.5" fill="#333" stroke="#333" stroke-width="0.1" text-anchor="end">−20</text>
<line x1="448.4" y1="260.79" x2="450.6" y2="260.79" stroke="#1c1c1c" stroke-width="0.9" />
<text x="444.2" y="263.14" font-size="6.5" fill="#333" stroke="#333" stroke-width="0.1" text-anchor="end">−30</text>
<line x1="448.4" y1="274.32" x2="450.6" y2="274.32" stroke="#1c1c1c" stroke-width="0.9" />
<text x="444.2" y="276.67" font-size="6.5" fill="#333" stroke="#333" stroke-width="0.1" text-anchor="end">−40</text>
<line x1="380.4" y1="220.2" x2="491" y2="220.2" stroke="#1c1c1c" stroke-width="1.3" />
<line x1="382.35" y1="220.2" x2="382.35" y2="222.6" stroke="#1c1c1c" stroke-width="0.8" />
<text transform="translate(383.15 228.2) rotate(-45)" font-size="6.8" fill="#333" stroke="#333" stroke-width="0.07" text-anchor="end">−140</text>
<line x1="392.1" y1="220.2" x2="392.1" y2="222.6" stroke="#1c1c1c" stroke-width="0.8" />
<text transform="translate(392.9 228.2) rotate(-45)" font-size="6.8" fill="#333" stroke="#333" stroke-width="0.07" text-anchor="end">−120</text>
<line x1="401.85" y1="220.2" x2="401.85" y2="222.6" stroke="#1c1c1c" stroke-width="0.8" />
<text transform="translate(402.65 228.2) rotate(-45)" font-size="6.8" fill="#333" stroke="#333" stroke-width="0.07" text-anchor="end">−100</text>
<line x1="411.6" y1="220.2" x2="411.6" y2="222.6" stroke="#1c1c1c" stroke-width="0.8" />
<text transform="translate(412.4 228.2) rotate(-45)" font-size="6.8" fill="#333" stroke="#333" stroke-width="0.07" text-anchor="end">−80</text>
<line x1="421.35" y1="220.2" x2="421.35" y2="222.6" stroke="#1c1c1c" stroke-width="0.8" />
<text transform="translate(422.15 228.2) rotate(-45)" font-size="6.8" fill="#333" stroke="#333" stroke-width="0.07" text-anchor="end">−60</text>
<line x1="431.1" y1="220.2" x2="431.1" y2="222.6" stroke="#1c1c1c" stroke-width="0.8" />
<text transform="translate(431.9 228.2) rotate(-45)" font-size="6.8" fill="#333" stroke="#333" stroke-width="0.07" text-anchor="end">−40</text>
<line x1="460.35" y1="220.2" x2="460.35" y2="222.6" stroke="#1c1c1c" stroke-width="0.8" />
<text transform="translate(461.15 228.2) rotate(-45)" font-size="6.8" fill="#333" stroke="#333" stroke-width="0.07" text-anchor="end">20</text>
<line x1="470.1" y1="220.2" x2="470.1" y2="222.6" stroke="#1c1c1c" stroke-width="0.8" />
<text transform="translate(470.9 228.2) rotate(-45)" font-size="6.8" fill="#333" stroke="#333" stroke-width="0.07" text-anchor="end">40</text>
<line x1="479.85" y1="220.2" x2="479.85" y2="222.6" stroke="#1c1c1c" stroke-width="0.8" />
<text transform="translate(480.65 228.2) rotate(-45)" font-size="6.8" fill="#333" stroke="#333" stroke-width="0.07" text-anchor="end">60</text>
<line x1="489.6" y1="220.2" x2="489.6" y2="222.6" stroke="#1c1c1c" stroke-width="0.8" />
<text transform="translate(490.4 228.2) rotate(-45)" font-size="6.8" fill="#333" stroke="#333" stroke-width="0.07" text-anchor="end">80</text>
<text transform="translate(420.8 181.2) rotate(-90)" font-size="8.4" fill="#333" stroke="#333" stroke-width="0.22" text-anchor="middle" textLength="47.5" lengthAdjust="spacingAndGlyphs">Current density</text>
<text transform="translate(431.5 181) rotate(-90)" font-size="8.4" fill="#333" stroke="#333" stroke-width="0.22" text-anchor="middle" textLength="22" lengthAdjust="spacingAndGlyphs">(pA/pF)</text>
<text x="456.9" y="245" font-size="8.6" fill="#333" stroke="#333" stroke-width="0.22" textLength="40" lengthAdjust="spacingAndGlyphs">Voltage (mV)</text>
<path d="M380.5,220.7 C387.08,220.67 408.33,220.62 420,220.5 C431.67,220.38 442.17,220.12 450.5,220 C458.83,219.88 463.5,219.93 470,219.8 C476.5,219.67 486.25,219.3 489.5,219.2" stroke="#4b2d63" stroke-width="1.25" fill="none" stroke-linejoin="round" stroke-linecap="round" />
<path d="M382,223.1 C387.08,222.82 403.67,221.92 412.5,221.4 C421.33,220.88 428.67,220.45 435,220 C441.33,219.55 446.33,219.1 450.5,218.7 C454.67,218.3 456.75,218.02 460,217.6 C463.25,217.18 466.67,216.72 470,216.2 C473.33,215.68 476.75,215.13 480,214.5 C483.25,213.87 487.92,212.75 489.5,212.4" stroke="#a8153a" stroke-width="1.5" fill="none" stroke-linejoin="round" stroke-linecap="round" />
<text x="472" y="210" font-size="6.8" fill="#c42a50" stroke="#c42a50" stroke-width="0.06" textLength="15.5" lengthAdjust="spacingAndGlyphs">Hypo</text>
<text x="492.5" y="217.2" font-size="6.8" fill="#4c3464" stroke="#4c3464" stroke-width="0.06" textLength="8.5" lengthAdjust="spacingAndGlyphs">Iso</text>
<text x="7.3" y="303.8" font-size="11.6" fill="#111" stroke="#111" stroke-width="0.35" font-weight="bold">G</text>
<text x="77.7" y="314.4" font-size="7.2" fill="#3f6498" stroke="#3f6498" stroke-width="0.06" textLength="9.8" lengthAdjust="spacingAndGlyphs">WT</text>
<line x1="57.7" y1="318.8" x2="106.2" y2="318.8" stroke="#5b80b3" stroke-width="1.3" />
<text x="113" y="314.4" font-size="7.2" fill="#c9405e" stroke="#c9405e" stroke-width="0.06" textLength="12.4" lengthAdjust="spacingAndGlyphs">cKO</text>
<line x1="113" y1="318.8" x2="125.2" y2="318.8" stroke="#cc4b66" stroke-width="1.3" />
<text transform="translate(66.2 380.3) rotate(-90)" font-size="7" fill="#333" stroke="#333" stroke-width="0.06" textLength="28" lengthAdjust="spacingAndGlyphs">1mM ATP</text>
<text transform="translate(79.5 380.3) rotate(-90)" font-size="7" fill="#333" stroke="#333" stroke-width="0.06" textLength="54" lengthAdjust="spacingAndGlyphs">1mM ATP+SN-401</text>
<text transform="translate(93 380.3) rotate(-90)" font-size="7" fill="#333" stroke="#333" stroke-width="0.06" textLength="31" lengthAdjust="spacingAndGlyphs">50mM ATP</text>
<text transform="translate(106.3 380.3) rotate(-90)" font-size="7" fill="#333" stroke="#333" stroke-width="0.06" textLength="57.5" lengthAdjust="spacingAndGlyphs">50mM ATP+SN-401</text>
<text transform="translate(119.6 380.3) rotate(-90)" font-size="7" fill="#333" stroke="#333" stroke-width="0.06" textLength="31" lengthAdjust="spacingAndGlyphs">50mM ATP</text>
<rect x="60.3" y="387.3" width="8.7" height="11.9" fill="#84a3c4" />
<rect x="87.1" y="387.3" width="8.6" height="52.4" fill="#84a3c4" />
<rect x="100.5" y="387.3" width="8.4" height="6.3" fill="#e8849a" />
<rect x="73.6" y="387.3" width="8.5" height="2.4" fill="#e8849a" />
<rect x="113.8" y="387.3" width="8.5" height="3" fill="#e8849a" />
<line x1="64.6" y1="399.2" x2="64.6" y2="403" stroke="#3d66a3" stroke-width="0.8" />
<line x1="62.6" y1="403" x2="66.6" y2="403" stroke="#3d66a3" stroke-width="0.8" />
<line x1="91.4" y1="439.7" x2="91.4" y2="450.3" stroke="#3d66a3" stroke-width="0.8" />
<line x1="89.4" y1="450.3" x2="93.4" y2="450.3" stroke="#3d66a3" stroke-width="0.8" />
<line x1="104.7" y1="393.6" x2="104.7" y2="397" stroke="#c9304f" stroke-width="0.8" />
<circle cx="62.2" cy="389.6" r="1.95" stroke="#3d66a3" stroke-width="0.95" fill="none"/>
<circle cx="67.2" cy="390.8" r="1.95" stroke="#3d66a3" stroke-width="0.95" fill="none"/>
<circle cx="61.8" cy="396.2" r="1.95" stroke="#3d66a3" stroke-width="0.95" fill="none"/>
<circle cx="67.2" cy="397.3" r="1.95" stroke="#3d66a3" stroke-width="0.95" fill="none"/>
<circle cx="64.6" cy="393" r="1.95" stroke="#3d66a3" stroke-width="0.95" fill="none"/>
<circle cx="62.2" cy="407.3" r="1.95" stroke="#3d66a3" stroke-width="0.95" fill="none"/>
<circle cx="67.5" cy="408.5" r="1.95" stroke="#3d66a3" stroke-width="0.95" fill="none"/>
<circle cx="64.6" cy="412.7" r="1.95" stroke="#3d66a3" stroke-width="0.95" fill="none"/>
<circle cx="94" cy="418.1" r="1.95" stroke="#3d66a3" stroke-width="0.95" fill="none"/>
<circle cx="88.75" cy="421" r="1.95" stroke="#3d66a3" stroke-width="0.95" fill="none"/>
<circle cx="91.25" cy="426.9" r="1.95" stroke="#3d66a3" stroke-width="0.95" fill="none"/>
<circle cx="91.25" cy="432.25" r="1.95" stroke="#3d66a3" stroke-width="0.95" fill="none"/>
<circle cx="91.25" cy="434.4" r="1.95" stroke="#3d66a3" stroke-width="0.95" fill="none"/>
<circle cx="91.25" cy="458.75" r="1.95" stroke="#3d66a3" stroke-width="0.95" fill="none"/>
<circle cx="91.25" cy="481.5" r="1.95" stroke="#3d66a3" stroke-width="0.95" fill="none"/>
<circle cx="75.4" cy="391.7" r="1.95" stroke="#c9304f" stroke-width="0.95" fill="none"/>
<circle cx="80.8" cy="392.8" r="1.95" stroke="#c9304f" stroke-width="0.95" fill="none"/>
<circle cx="77.5" cy="388.6" r="1.95" stroke="#c9304f" stroke-width="0.95" fill="none"/>
<circle cx="74.8" cy="388.6" r="1.95" stroke="#c9304f" stroke-width="0.95" fill="none"/>
<circle cx="80.2" cy="388.6" r="1.95" stroke="#c9304f" stroke-width="0.95" fill="none"/>
<circle cx="78" cy="390" r="1.95" stroke="#c9304f" stroke-width="0.95" fill="none"/>
<circle cx="102.3" cy="390.1" r="1.95" stroke="#c9304f" stroke-width="0.95" fill="none"/>
<circle cx="107.1" cy="390.1" r="1.95" stroke="#c9304f" stroke-width="0.95" fill="none"/>
<circle cx="102.3" cy="392.8" r="1.95" stroke="#c9304f" stroke-width="0.95" fill="none"/>
<circle cx="107.1" cy="392.8" r="1.95" stroke="#c9304f" stroke-width="0.95" fill="none"/>
<circle cx="104.7" cy="394.9" r="1.95" stroke="#c9304f" stroke-width="0.95" fill="none"/>
<circle cx="106.1" cy="400.8" r="1.95" stroke="#c9304f" stroke-width="0.95" fill="none"/>
<circle cx="103.4" cy="404.1" r="1.95" stroke="#c9304f" stroke-width="0.95" fill="none"/>
<circle cx="104.7" cy="388.8" r="1.95" stroke="#c9304f" stroke-width="0.95" fill="none"/>
<circle cx="115.2" cy="390.1" r="1.95" stroke="#c9304f" stroke-width="0.95" fill="none"/>
<circle cx="120.6" cy="390.1" r="1.95" stroke="#c9304f" stroke-width="0.95" fill="none"/>
<circle cx="117.9" cy="391.2" r="1.95" stroke="#c9304f" stroke-width="0.95" fill="none"/>
<circle cx="118.1" cy="396.5" r="1.95" stroke="#c9304f" stroke-width="0.95" fill="none"/>
<circle cx="117" cy="388.7" r="1.95" stroke="#c9304f" stroke-width="0.95" fill="none"/>
<circle cx="119.5" cy="388.7" r="1.95" stroke="#c9304f" stroke-width="0.95" fill="none"/>
<line x1="52.5" y1="387.3" x2="127" y2="387.3" stroke="#1c1c1c" stroke-width="1.2" />
<line x1="64.6" y1="384.3" x2="64.6" y2="387.3" stroke="#1c1c1c" stroke-width="0.9" />
<line x1="77.9" y1="384.3" x2="77.9" y2="387.3" stroke="#1c1c1c" stroke-width="0.9" />
<line x1="91.4" y1="384.3" x2="91.4" y2="387.3" stroke="#1c1c1c" stroke-width="0.9" />
<line x1="104.7" y1="384.3" x2="104.7" y2="387.3" stroke="#1c1c1c" stroke-width="0.9" />
<line x1="118" y1="384.3" x2="118" y2="387.3" stroke="#1c1c1c" stroke-width="0.9" />
<line x1="55.8" y1="387.3" x2="55.8" y2="498.8" stroke="#1c1c1c" stroke-width="1.3" />
<line x1="53.4" y1="387.3" x2="55.8" y2="387.3" stroke="#1c1c1c" stroke-width="0.9" />
<text x="49.3" y="389.65" font-size="6.9" fill="#333" stroke="#333" stroke-width="0.1" text-anchor="end">0</text>
<line x1="53.4" y1="414.5" x2="55.8" y2="414.5" stroke="#1c1c1c" stroke-width="0.9" />
<text x="49.3" y="416.85" font-size="6.9" fill="#333" stroke="#333" stroke-width="0.1" text-anchor="end">−20</text>
<line x1="53.4" y1="441.7" x2="55.8" y2="441.7" stroke="#1c1c1c" stroke-width="0.9" />
<text x="49.3" y="444.05" font-size="6.9" fill="#333" stroke="#333" stroke-width="0.1" text-anchor="end">−40</text>
<line x1="53.4" y1="468.9" x2="55.8" y2="468.9" stroke="#1c1c1c" stroke-width="0.9" />
<text x="49.3" y="471.25" font-size="6.9" fill="#333" stroke="#333" stroke-width="0.1" text-anchor="end">−60</text>
<line x1="53.4" y1="496.1" x2="55.8" y2="496.1" stroke="#1c1c1c" stroke-width="0.9" />
<text x="49.3" y="498.45" font-size="6.9" fill="#333" stroke="#333" stroke-width="0.1" text-anchor="end">−80</text>
<text transform="translate(32.7 442.2) rotate(-90)" font-size="9" fill="#333" stroke="#333" stroke-width="0.22" text-anchor="middle" textLength="104" lengthAdjust="spacingAndGlyphs">Current density at -140mV (pA/pF)</text>
<path d="M63.6,420.8 L63.6,423.7 L78,423.7 L78,420.8" stroke="#333" stroke-width="0.9" fill="none" stroke-linejoin="round" stroke-linecap="round" stroke-linejoin="miter" stroke-linecap="butt"/>
<text x="70.8" y="430.8" font-size="7" fill="#333" stroke="#333" stroke-width="0.22" text-anchor="middle">*</text>
<path d="M90.4,486.2 L90.4,489.3 L104.7,489.3 L104.7,486.2" stroke="#333" stroke-width="0.9" fill="none" stroke-linejoin="round" stroke-linecap="round" stroke-linejoin="miter" stroke-linecap="butt"/>
<text x="97.5" y="496.3" font-size="7" fill="#333" stroke="#333" stroke-width="0.22" text-anchor="middle">**</text>
<path d="M90.4,495 L90.4,498.1 L118.8,498.1 L118.8,495" stroke="#333" stroke-width="0.9" fill="none" stroke-linejoin="round" stroke-linecap="round" stroke-linejoin="miter" stroke-linecap="butt"/>
<text x="104.4" y="505" font-size="7" fill="#333" stroke="#333" stroke-width="0.22" text-anchor="middle">***</text>
<text x="172.5" y="303" font-size="11.6" fill="#111" stroke="#111" stroke-width="0.35" font-weight="bold">H</text>
<path d="M207.8,359.8 L212.8,368.6 L212.5,369.73 A9.6,9.6 0 1 0 217.5,369.73 L217.2,368.6 L222.2,359.8" stroke="#1a1a1a" stroke-width="1.15" fill="none" stroke-linejoin="round" stroke-linecap="round" stroke-linecap="butt"/>
<text x="215" y="378.1" font-size="4.5" fill="#444" stroke="#444" stroke-width="0.05" text-anchor="middle" textLength="9.6" lengthAdjust="spacingAndGlyphs">1mM</text>
<text x="215" y="383.3" font-size="4.5" fill="#444" stroke="#444" stroke-width="0.05" text-anchor="middle" textLength="9.6" lengthAdjust="spacingAndGlyphs">ATPᴵⁿ</text>
<text x="202.3" y="395.3" font-size="6.1" fill="#333" stroke="#333" stroke-width="0.08" textLength="23.8" lengthAdjust="spacingAndGlyphs">MEG-01</text>
<line x1="271.85" y1="310.1" x2="271.85" y2="426.7" stroke="#1c1c1c" stroke-width="1.3" />
<line x1="269.65" y1="312.3" x2="271.85" y2="312.3" stroke="#1c1c1c" stroke-width="0.9" />
<text x="265.45" y="314.65" font-size="6.5" fill="#333" stroke="#333" stroke-width="0.1" text-anchor="end">100</text>
<line x1="269.65" y1="330.9" x2="271.85" y2="330.9" stroke="#1c1c1c" stroke-width="0.9" />
<text x="265.45" y="333.25" font-size="6.5" fill="#333" stroke="#333" stroke-width="0.1" text-anchor="end">80</text>
<line x1="269.65" y1="349.5" x2="271.85" y2="349.5" stroke="#1c1c1c" stroke-width="0.9" />
<text x="265.45" y="351.85" font-size="6.5" fill="#333" stroke="#333" stroke-width="0.1" text-anchor="end">60</text>
<line x1="269.65" y1="368.1" x2="271.85" y2="368.1" stroke="#1c1c1c" stroke-width="0.9" />
<text x="265.45" y="370.45" font-size="6.5" fill="#333" stroke="#333" stroke-width="0.1" text-anchor="end">40</text>
<line x1="269.65" y1="386.7" x2="271.85" y2="386.7" stroke="#1c1c1c" stroke-width="0.9" />
<text x="265.45" y="389.05" font-size="6.5" fill="#333" stroke="#333" stroke-width="0.1" text-anchor="end">20</text>
<line x1="269.65" y1="405.3" x2="271.85" y2="405.3" stroke="#1c1c1c" stroke-width="0.9" />
<line x1="269.65" y1="423.9" x2="271.85" y2="423.9" stroke="#1c1c1c" stroke-width="0.9" />
<text x="265.45" y="426.25" font-size="6.5" fill="#333" stroke="#333" stroke-width="0.1" text-anchor="end">−20</text>
<line x1="189.5" y1="405.3" x2="318.8" y2="405.3" stroke="#1c1c1c" stroke-width="1.3" />
<line x1="193.1" y1="405.3" x2="193.1" y2="407.7" stroke="#1c1c1c" stroke-width="0.8" />
<text transform="translate(193.9 413.3) rotate(-45)" font-size="6.8" fill="#333" stroke="#333" stroke-width="0.07" text-anchor="end">−140</text>
<line x1="204.35" y1="405.3" x2="204.35" y2="407.7" stroke="#1c1c1c" stroke-width="0.8" />
<text transform="translate(205.15 413.3) rotate(-45)" font-size="6.8" fill="#333" stroke="#333" stroke-width="0.07" text-anchor="end">−120</text>
<line x1="215.6" y1="405.3" x2="215.6" y2="407.7" stroke="#1c1c1c" stroke-width="0.8" />
<text transform="translate(216.4 413.3) rotate(-45)" font-size="6.8" fill="#333" stroke="#333" stroke-width="0.07" text-anchor="end">−100</text>
<line x1="226.85" y1="405.3" x2="226.85" y2="407.7" stroke="#1c1c1c" stroke-width="0.8" />
<text transform="translate(227.65 413.3) rotate(-45)" font-size="6.8" fill="#333" stroke="#333" stroke-width="0.07" text-anchor="end">−80</text>
<line x1="238.1" y1="405.3" x2="238.1" y2="407.7" stroke="#1c1c1c" stroke-width="0.8" />
<text transform="translate(238.9 413.3) rotate(-45)" font-size="6.8" fill="#333" stroke="#333" stroke-width="0.07" text-anchor="end">−60</text>
<line x1="249.35" y1="405.3" x2="249.35" y2="407.7" stroke="#1c1c1c" stroke-width="0.8" />
<text transform="translate(250.15 413.3) rotate(-45)" font-size="6.8" fill="#333" stroke="#333" stroke-width="0.07" text-anchor="end">−40</text>
<line x1="260.6" y1="405.3" x2="260.6" y2="407.7" stroke="#1c1c1c" stroke-width="0.8" />
<text transform="translate(261.4 413.3) rotate(-45)" font-size="6.8" fill="#333" stroke="#333" stroke-width="0.07" text-anchor="end">−20</text>
<line x1="283.1" y1="405.3" x2="283.1" y2="407.7" stroke="#1c1c1c" stroke-width="0.8" />
<text transform="translate(283.9 413.3) rotate(-45)" font-size="6.8" fill="#333" stroke="#333" stroke-width="0.07" text-anchor="end">20</text>
<line x1="294.35" y1="405.3" x2="294.35" y2="407.7" stroke="#1c1c1c" stroke-width="0.8" />
<text transform="translate(295.15 413.3) rotate(-45)" font-size="6.8" fill="#333" stroke="#333" stroke-width="0.07" text-anchor="end">40</text>
<line x1="305.6" y1="405.3" x2="305.6" y2="407.7" stroke="#1c1c1c" stroke-width="0.8" />
<text transform="translate(306.4 413.3) rotate(-45)" font-size="6.8" fill="#333" stroke="#333" stroke-width="0.07" text-anchor="end">60</text>
<line x1="316.85" y1="405.3" x2="316.85" y2="407.7" stroke="#1c1c1c" stroke-width="0.8" />
<text transform="translate(317.65 413.3) rotate(-45)" font-size="6.8" fill="#333" stroke="#333" stroke-width="0.07" text-anchor="end">80</text>
<text transform="translate(238.5 350) rotate(-90)" font-size="8.4" fill="#333" stroke="#333" stroke-width="0.22" text-anchor="middle" textLength="48" lengthAdjust="spacingAndGlyphs">Current density</text>
<text transform="translate(249.7 349.6) rotate(-90)" font-size="8.4" fill="#333" stroke="#333" stroke-width="0.22" text-anchor="middle" textLength="22" lengthAdjust="spacingAndGlyphs">(pA/pF)</text>
<text x="277.8" y="430.4" font-size="8.6" fill="#333" stroke="#333" stroke-width="0.22" textLength="40.7" lengthAdjust="spacingAndGlyphs">Voltage (mV)</text>
<path d="M189.5,405.6 C196.25,405.57 216.25,405.55 230,405.4 C243.75,405.25 261.17,404.97 272,404.7 C282.83,404.43 287.5,404.12 295,403.8 C302.5,403.48 313.33,402.97 317,402.8" stroke="#4b2d63" stroke-width="1.2" fill="none" stroke-linejoin="round" stroke-linecap="round" />
<path d="M262,405 C264.23,404.9 271.37,404.82 275.4,404.4 C279.43,403.98 281.85,403.17 286.2,402.5 C290.55,401.83 297.7,401.02 301.5,400.4 C305.3,399.78 306.43,399.4 309,398.8 C311.57,398.2 315.58,397.13 316.9,396.8" stroke="#a2b286" stroke-width="1.25" fill="none" stroke-linejoin="round" stroke-linecap="round" />
<path d="M192.5,410.4 C194.58,410.22 200.42,409.68 205,409.3 C209.58,408.92 215.5,408.48 220,408.1 C224.5,407.72 228.67,407.32 232,407 C235.33,406.68 237.13,406.52 240,406.2 C242.87,405.88 246.12,405.55 249.2,405.1 C252.28,404.65 255.67,404.17 258.5,403.5 C261.33,402.83 263.97,401.87 266.2,401.1 C268.43,400.33 269.8,399.85 271.85,398.9 C273.9,397.95 276.11,396.88 278.5,395.4 C280.89,393.92 283.65,392.32 286.2,390 C288.75,387.68 291.25,384.83 293.8,381.5 C296.35,378.17 299.55,373.15 301.5,370 C303.45,366.85 304.22,365.17 305.5,362.6 C306.78,360.03 308.03,357.27 309.2,354.6 C310.37,351.93 311.47,349.17 312.5,346.6 C313.53,344.03 314.57,341.4 315.4,339.2 C316.23,337 317.15,334.37 317.5,333.4" stroke="#a8153a" stroke-width="1.5" fill="none" stroke-linejoin="round" stroke-linecap="round" />
<text x="311" y="332.1" font-size="6.8" fill="#c42a50" stroke="#c42a50" stroke-width="0.06" textLength="16" lengthAdjust="spacingAndGlyphs">Hypo</text>
<text x="311" y="385.4" font-size="6.8" fill="#b9bf9c" stroke="#b9bf9c" stroke-width="0.06" textLength="16" lengthAdjust="spacingAndGlyphs">Hypo</text>
<text x="307" y="392.4" font-size="6.8" fill="#b9bf9c" stroke="#b9bf9c" stroke-width="0.06" textLength="25.5" lengthAdjust="spacingAndGlyphs">+SN-401</text>
<text x="321" y="406" font-size="6.8" fill="#4c3464" stroke="#4c3464" stroke-width="0.06" textLength="8.5" lengthAdjust="spacingAndGlyphs">Iso</text>
<text x="350.8" y="303" font-size="11.6" fill="#111" stroke="#111" stroke-width="0.35" font-weight="bold">I</text>
<path d="M385.6,360.8 L390.6,369.6 L390.3,370.73 A9.6,9.6 0 1 0 395.3,370.73 L395,369.6 L400,360.8" stroke="#1a1a1a" stroke-width="1.15" fill="none" stroke-linejoin="round" stroke-linecap="round" stroke-linecap="butt"/>
<text x="392.8" y="379.1" font-size="4.5" fill="#444" stroke="#444" stroke-width="0.05" text-anchor="middle" textLength="11.2" lengthAdjust="spacingAndGlyphs">50mM</text>
<text x="392.8" y="384.3" font-size="4.5" fill="#444" stroke="#444" stroke-width="0.05" text-anchor="middle" textLength="9.6" lengthAdjust="spacingAndGlyphs">ATPᴵⁿ</text>
<text x="381.2" y="398" font-size="6.1" fill="#333" stroke="#333" stroke-width="0.08" textLength="23.9" lengthAdjust="spacingAndGlyphs">MEG-01</text>
<line x1="451.2" y1="313.95" x2="451.2" y2="425.45" stroke="#1c1c1c" stroke-width="1.3" />
<line x1="449" y1="316.15" x2="451.2" y2="316.15" stroke="#1c1c1c" stroke-width="0.9" />
<text x="444.8" y="318.5" font-size="6.5" fill="#333" stroke="#333" stroke-width="0.1" text-anchor="end">100</text>
<line x1="449" y1="333.9" x2="451.2" y2="333.9" stroke="#1c1c1c" stroke-width="0.9" />
<text x="444.8" y="336.25" font-size="6.5" fill="#333" stroke="#333" stroke-width="0.1" text-anchor="end">80</text>
<line x1="449" y1="351.65" x2="451.2" y2="351.65" stroke="#1c1c1c" stroke-width="0.9" />
<text x="444.8" y="354" font-size="6.5" fill="#333" stroke="#333" stroke-width="0.1" text-anchor="end">60</text>
<line x1="449" y1="369.4" x2="451.2" y2="369.4" stroke="#1c1c1c" stroke-width="0.9" />
<text x="444.8" y="371.75" font-size="6.5" fill="#333" stroke="#333" stroke-width="0.1" text-anchor="end">40</text>
<line x1="449" y1="387.15" x2="451.2" y2="387.15" stroke="#1c1c1c" stroke-width="0.9" />
<text x="444.8" y="389.5" font-size="6.5" fill="#333" stroke="#333" stroke-width="0.1" text-anchor="end">20</text>
<line x1="449" y1="404.9" x2="451.2" y2="404.9" stroke="#1c1c1c" stroke-width="0.9" />
<line x1="449" y1="422.65" x2="451.2" y2="422.65" stroke="#1c1c1c" stroke-width="0.9" />
<text x="444.8" y="425" font-size="6.5" fill="#333" stroke="#333" stroke-width="0.1" text-anchor="end">−20</text>
<line x1="368.8" y1="404.9" x2="497.5" y2="404.9" stroke="#1c1c1c" stroke-width="1.3" />
<line x1="372.45" y1="404.9" x2="372.45" y2="407.3" stroke="#1c1c1c" stroke-width="0.8" />
<text transform="translate(373.25 412.9) rotate(-45)" font-size="6.8" fill="#333" stroke="#333" stroke-width="0.07" text-anchor="end">−140</text>
<line x1="383.7" y1="404.9" x2="383.7" y2="407.3" stroke="#1c1c1c" stroke-width="0.8" />
<text transform="translate(384.5 412.9) rotate(-45)" font-size="6.8" fill="#333" stroke="#333" stroke-width="0.07" text-anchor="end">−120</text>
<line x1="394.95" y1="404.9" x2="394.95" y2="407.3" stroke="#1c1c1c" stroke-width="0.8" />
<text transform="translate(395.75 412.9) rotate(-45)" font-size="6.8" fill="#333" stroke="#333" stroke-width="0.07" text-anchor="end">−100</text>
<line x1="406.2" y1="404.9" x2="406.2" y2="407.3" stroke="#1c1c1c" stroke-width="0.8" />
<text transform="translate(407 412.9) rotate(-45)" font-size="6.8" fill="#333" stroke="#333" stroke-width="0.07" text-anchor="end">−80</text>
<line x1="417.45" y1="404.9" x2="417.45" y2="407.3" stroke="#1c1c1c" stroke-width="0.8" />
<text transform="translate(418.25 412.9) rotate(-45)" font-size="6.8" fill="#333" stroke="#333" stroke-width="0.07" text-anchor="end">−60</text>
<line x1="428.7" y1="404.9" x2="428.7" y2="407.3" stroke="#1c1c1c" stroke-width="0.8" />
<text transform="translate(429.5 412.9) rotate(-45)" font-size="6.8" fill="#333" stroke="#333" stroke-width="0.07" text-anchor="end">−40</text>
<line x1="439.95" y1="404.9" x2="439.95" y2="407.3" stroke="#1c1c1c" stroke-width="0.8" />
<text transform="translate(440.75 412.9) rotate(-45)" font-size="6.8" fill="#333" stroke="#333" stroke-width="0.07" text-anchor="end">−20</text>
<line x1="462.45" y1="404.9" x2="462.45" y2="407.3" stroke="#1c1c1c" stroke-width="0.8" />
<text transform="translate(463.25 412.9) rotate(-45)" font-size="6.8" fill="#333" stroke="#333" stroke-width="0.07" text-anchor="end">20</text>
<line x1="473.7" y1="404.9" x2="473.7" y2="407.3" stroke="#1c1c1c" stroke-width="0.8" />
<text transform="translate(474.5 412.9) rotate(-45)" font-size="6.8" fill="#333" stroke="#333" stroke-width="0.07" text-anchor="end">40</text>
<line x1="484.95" y1="404.9" x2="484.95" y2="407.3" stroke="#1c1c1c" stroke-width="0.8" />
<text transform="translate(485.75 412.9) rotate(-45)" font-size="6.8" fill="#333" stroke="#333" stroke-width="0.07" text-anchor="end">60</text>
<line x1="496.2" y1="404.9" x2="496.2" y2="407.3" stroke="#1c1c1c" stroke-width="0.8" />
<text transform="translate(497 412.9) rotate(-45)" font-size="6.8" fill="#333" stroke="#333" stroke-width="0.07" text-anchor="end">80</text>
<text transform="translate(417.7 352.5) rotate(-90)" font-size="8.4" fill="#333" stroke="#333" stroke-width="0.22" text-anchor="middle" textLength="47.5" lengthAdjust="spacingAndGlyphs">Current density</text>
<text transform="translate(428.9 352.1) rotate(-90)" font-size="8.4" fill="#333" stroke="#333" stroke-width="0.22" text-anchor="middle" textLength="22" lengthAdjust="spacingAndGlyphs">(pA/pF)</text>
<text x="458.5" y="430.2" font-size="8.6" fill="#333" stroke="#333" stroke-width="0.22" textLength="41.5" lengthAdjust="spacingAndGlyphs">Voltage (mV)</text>
<path d="M370,405.8 C378.33,405.72 406.58,405.52 420,405.3 C433.42,405.08 441.33,404.85 450.5,404.5 C459.67,404.15 467.38,403.75 475,403.2 C482.62,402.65 492.67,401.53 496.2,401.2" stroke="#4b2d63" stroke-width="1.2" fill="none" stroke-linejoin="round" stroke-linecap="round" />
<path d="M445,404.6 C448.02,404.4 458.3,403.87 463.1,403.4 C467.9,402.93 470.22,402.57 473.8,401.8 C477.38,401.03 481.9,399.63 484.6,398.8 C487.3,397.97 488.07,397.57 490,396.8 C491.93,396.03 495.17,394.63 496.2,394.2" stroke="#a2b286" stroke-width="1.25" fill="none" stroke-linejoin="round" stroke-linecap="round" />
<path d="M372.3,424.6 C374.42,423.93 380.38,422.07 385,420.6 C389.62,419.13 395.83,417.18 400,415.8 C404.17,414.42 406.67,413.47 410,412.3 C413.33,411.13 417.05,409.68 420,408.8 C422.95,407.92 425.4,407.65 427.7,407 C430,406.35 431.23,406.15 433.8,404.9 C436.37,403.65 440.2,401.55 443.1,399.5 C446,397.45 448.63,394.9 451.2,392.6 C453.77,390.3 456,388.27 458.5,385.7 C461,383.13 463.65,380.53 466.2,377.2 C468.75,373.87 471.25,369.93 473.8,365.7 C476.35,361.47 478.93,356.42 481.5,351.8 C484.07,347.18 486.75,342.48 489.2,338 C491.65,333.52 495.03,327.08 496.2,324.9" stroke="#a8153a" stroke-width="1.5" fill="none" stroke-linejoin="round" stroke-linecap="round" />
<text x="490" y="322.5" font-size="6.8" fill="#c42a50" stroke="#c42a50" stroke-width="0.06" textLength="16.2" lengthAdjust="spacingAndGlyphs">Hypo</text>
<text x="491" y="382.5" font-size="6.8" fill="#b9bf9c" stroke="#b9bf9c" stroke-width="0.06" textLength="16" lengthAdjust="spacingAndGlyphs">Hypo</text>
<text x="486" y="390.4" font-size="6.8" fill="#b9bf9c" stroke="#b9bf9c" stroke-width="0.06" textLength="26" lengthAdjust="spacingAndGlyphs">+SN-401</text>
<text x="498.8" y="403.8" font-size="6.8" fill="#4c3464" stroke="#4c3464" stroke-width="0.06" textLength="8.3" lengthAdjust="spacingAndGlyphs">Iso</text>
<text x="7" y="545" font-size="11.6" fill="#111" stroke="#111" stroke-width="0.35" font-weight="bold">J</text>
<text transform="translate(64.9 593.4) rotate(-90)" font-size="7" fill="#333" stroke="#333" stroke-width="0.06" textLength="27.4" lengthAdjust="spacingAndGlyphs">1mM ATP</text>
<text transform="translate(81.4 593.4) rotate(-90)" font-size="7" fill="#333" stroke="#333" stroke-width="0.06" textLength="54.2" lengthAdjust="spacingAndGlyphs">1mM ATP+SN-401</text>
<text transform="translate(97.8 593.4) rotate(-90)" font-size="7" fill="#333" stroke="#333" stroke-width="0.06" textLength="31.4" lengthAdjust="spacingAndGlyphs">50mM ATP</text>
<text transform="translate(114.2 593.4) rotate(-90)" font-size="7" fill="#333" stroke="#333" stroke-width="0.06" textLength="57.2" lengthAdjust="spacingAndGlyphs">50mM ATP+SN-401</text>
<rect x="58.3" y="600.3" width="10" height="15.9" fill="#84a3c4" />
<rect x="91.3" y="600.3" width="9.8" height="56.3" fill="#84a3c4" />
<rect x="108.1" y="600.3" width="9.8" height="13.3" fill="#e8849a" />
<rect x="74.8" y="600.3" width="9.8" height="2.2" fill="#e8849a" />
<line x1="63.3" y1="616.2" x2="63.3" y2="618.5" stroke="#3d66a3" stroke-width="0.8" />
<line x1="96.3" y1="644" x2="96.3" y2="669.6" stroke="#3d66a3" stroke-width="0.8" />
<line x1="94.3" y1="644" x2="98.3" y2="644" stroke="#3d66a3" stroke-width="0.8" />
<line x1="94.3" y1="669.6" x2="98.3" y2="669.6" stroke="#3d66a3" stroke-width="0.8" />
<line x1="112.7" y1="613.6" x2="112.7" y2="618.8" stroke="#c9304f" stroke-width="0.8" />
<line x1="110.7" y1="618.8" x2="114.7" y2="618.8" stroke="#c9304f" stroke-width="0.8" />
<circle cx="63.5" cy="608.5" r="1.95" stroke="#3d66a3" stroke-width="0.95" fill="none"/>
<circle cx="59.3" cy="612.3" r="1.95" stroke="#3d66a3" stroke-width="0.95" fill="none"/>
<circle cx="67.3" cy="612.3" r="1.95" stroke="#3d66a3" stroke-width="0.95" fill="none"/>
<circle cx="63.5" cy="615.2" r="1.95" stroke="#3d66a3" stroke-width="0.95" fill="none"/>
<circle cx="63.5" cy="621.6" r="1.95" stroke="#3d66a3" stroke-width="0.95" fill="none"/>
<circle cx="96.3" cy="631" r="1.95" stroke="#3d66a3" stroke-width="0.95" fill="none"/>
<circle cx="96.3" cy="639.8" r="1.95" stroke="#3d66a3" stroke-width="0.95" fill="none"/>
<circle cx="96.3" cy="669.6" r="1.95" stroke="#3d66a3" stroke-width="0.95" fill="none"/>
<circle cx="96.3" cy="690.2" r="1.95" stroke="#3d66a3" stroke-width="0.95" fill="none"/>
<circle cx="76.5" cy="603.2" r="1.95" stroke="#c9304f" stroke-width="0.95" fill="none"/>
<circle cx="80" cy="602.6" r="1.95" stroke="#c9304f" stroke-width="0.95" fill="none"/>
<circle cx="83.6" cy="603.2" r="1.95" stroke="#c9304f" stroke-width="0.95" fill="none"/>
<circle cx="78.5" cy="602" r="1.95" stroke="#c9304f" stroke-width="0.95" fill="none"/>
<circle cx="81.5" cy="602" r="1.95" stroke="#c9304f" stroke-width="0.95" fill="none"/>
<circle cx="109.2" cy="613.4" r="1.95" stroke="#c9304f" stroke-width="0.95" fill="none"/>
<circle cx="116.2" cy="612.2" r="1.95" stroke="#c9304f" stroke-width="0.95" fill="none"/>
<circle cx="112.7" cy="616" r="1.95" stroke="#c9304f" stroke-width="0.95" fill="none"/>
<circle cx="116.2" cy="616.8" r="1.95" stroke="#c9304f" stroke-width="0.95" fill="none"/>
<circle cx="112.7" cy="626" r="1.95" stroke="#c9304f" stroke-width="0.95" fill="none"/>
<line x1="49.2" y1="600.3" x2="124" y2="600.3" stroke="#1c1c1c" stroke-width="1.2" />
<line x1="63.3" y1="597.3" x2="63.3" y2="600.3" stroke="#1c1c1c" stroke-width="0.9" />
<line x1="79.8" y1="597.3" x2="79.8" y2="600.3" stroke="#1c1c1c" stroke-width="0.9" />
<line x1="96.2" y1="597.3" x2="96.2" y2="600.3" stroke="#1c1c1c" stroke-width="0.9" />
<line x1="112.6" y1="597.3" x2="112.6" y2="600.3" stroke="#1c1c1c" stroke-width="0.9" />
<line x1="52.7" y1="600.3" x2="52.7" y2="712" stroke="#1c1c1c" stroke-width="1.3" />
<line x1="50.3" y1="600.3" x2="52.7" y2="600.3" stroke="#1c1c1c" stroke-width="0.9" />
<text x="44.7" y="602.65" font-size="6.9" fill="#333" stroke="#333" stroke-width="0.1" text-anchor="end">0</text>
<line x1="50.3" y1="636.5" x2="52.7" y2="636.5" stroke="#1c1c1c" stroke-width="0.9" />
<text x="44.7" y="638.85" font-size="6.9" fill="#333" stroke="#333" stroke-width="0.1" text-anchor="end">−20</text>
<line x1="50.3" y1="672.9" x2="52.7" y2="672.9" stroke="#1c1c1c" stroke-width="0.9" />
<text x="44.7" y="675.25" font-size="6.9" fill="#333" stroke="#333" stroke-width="0.1" text-anchor="end">−40</text>
<line x1="50.3" y1="709.3" x2="52.7" y2="709.3" stroke="#1c1c1c" stroke-width="0.9" />
<text x="44.7" y="711.65" font-size="6.9" fill="#333" stroke="#333" stroke-width="0.1" text-anchor="end">−60</text>
<text transform="translate(29.7 654.5) rotate(-90)" font-size="9" fill="#333" stroke="#333" stroke-width="0.22" text-anchor="middle" textLength="105.6" lengthAdjust="spacingAndGlyphs">Current density at -140mV (pA/pF)</text>
<path d="M63.4,626.9 L63.4,630.1 L78.4,630.1 L78.4,626.9" stroke="#333" stroke-width="0.9" fill="none" stroke-linejoin="round" stroke-linecap="round" stroke-linejoin="miter" stroke-linecap="butt"/>
<text x="71" y="637" font-size="7" fill="#333" stroke="#333" stroke-width="0.22" text-anchor="middle">***</text>
<path d="M61.7,695.4 L61.7,698.5 L110.8,698.5 L110.8,695.4" stroke="#333" stroke-width="0.9" fill="none" stroke-linejoin="round" stroke-linecap="round" stroke-linejoin="miter" stroke-linecap="butt"/>
<line x1="96.3" y1="695.4" x2="96.3" y2="698.5" stroke="#333" stroke-width="1.3" />
<text x="78.5" y="705.5" font-size="7" fill="#333" stroke="#333" stroke-width="0.22" text-anchor="middle">**</text>
<text x="103.5" y="705.5" font-size="7" fill="#333" stroke="#333" stroke-width="0.22" text-anchor="middle">*</text>
<text x="170" y="458" font-size="11.6" fill="#111" stroke="#111" stroke-width="0.35" font-weight="bold">K</text>
<text x="219.3" y="469.5" font-size="6.5" fill="#333" stroke="#333" stroke-width="0.08" textLength="15.7" lengthAdjust="spacingAndGlyphs">Hypo</text>
<text x="270" y="469.3" font-size="6.5" fill="#333" stroke="#333" stroke-width="0.08" textLength="8.4" lengthAdjust="spacingAndGlyphs">Iso</text>
<line x1="219.3" y1="472.8" x2="270" y2="472.8" stroke="#c9577a" stroke-width="1.35" />
<line x1="270" y1="472.8" x2="331.3" y2="472.8" stroke="#8f8194" stroke-width="1.35" />
<path d="M223.2,477.8 L228.2,486.6 L227.9,487.73 A9.6,9.6 0 1 0 232.9,487.73 L232.6,486.6 L237.6,477.8" stroke="#1a1a1a" stroke-width="1.15" fill="none" stroke-linejoin="round" stroke-linecap="round" stroke-linecap="butt"/>
<text x="230.4" y="496.1" font-size="4.5" fill="#444" stroke="#444" stroke-width="0.05" text-anchor="middle" textLength="11.2" lengthAdjust="spacingAndGlyphs">50mM</text>
<text x="230.4" y="501.3" font-size="4.5" fill="#444" stroke="#444" stroke-width="0.05" text-anchor="middle" textLength="9.6" lengthAdjust="spacingAndGlyphs">ATPᴵⁿ</text>
<text x="218.5" y="513.3" font-size="6.1" fill="#333" stroke="#333" stroke-width="0.08" textLength="23.6" lengthAdjust="spacingAndGlyphs">MEG-01</text>
<line x1="212.5" y1="470" x2="212.5" y2="553.8" stroke="#1c1c1c" stroke-width="1.3" />
<line x1="210.3" y1="472" x2="212.5" y2="472" stroke="#1c1c1c" stroke-width="0.9" />
<text x="206.7" y="474.35" font-size="6.5" fill="#333" stroke="#333" stroke-width="0.1" text-anchor="end">3000</text>
<line x1="210.3" y1="491.9" x2="212.5" y2="491.9" stroke="#1c1c1c" stroke-width="0.9" />
<text x="206.7" y="494.25" font-size="6.5" fill="#333" stroke="#333" stroke-width="0.1" text-anchor="end">2000</text>
<line x1="210.3" y1="511.8" x2="212.5" y2="511.8" stroke="#1c1c1c" stroke-width="0.9" />
<text x="206.7" y="514.15" font-size="6.5" fill="#333" stroke="#333" stroke-width="0.1" text-anchor="end">1000</text>
<line x1="210.3" y1="531.75" x2="212.5" y2="531.75" stroke="#1c1c1c" stroke-width="0.9" />
<text x="206.7" y="534.1" font-size="6.5" fill="#333" stroke="#333" stroke-width="0.1" text-anchor="end">0</text>
<line x1="210.3" y1="551.7" x2="212.5" y2="551.7" stroke="#1c1c1c" stroke-width="0.9" />
<text x="206.7" y="554.05" font-size="6.5" fill="#333" stroke="#333" stroke-width="0.1" text-anchor="end">−1000</text>
<text transform="translate(183.3 512) rotate(-90)" font-size="9" fill="#333" stroke="#333" stroke-width="0.22" text-anchor="middle" textLength="37.8" lengthAdjust="spacingAndGlyphs">Current (pA)</text>
<line x1="212.5" y1="531.75" x2="331.3" y2="531.75" stroke="#1c1c1c" stroke-width="1.3" />
<line x1="212.5" y1="531.75" x2="212.5" y2="533.8" stroke="#1c1c1c" stroke-width="0.8" />
<line x1="232.3" y1="531.75" x2="232.3" y2="533.8" stroke="#1c1c1c" stroke-width="0.8" />
<line x1="252.1" y1="531.75" x2="252.1" y2="533.8" stroke="#1c1c1c" stroke-width="0.8" />
<line x1="271.9" y1="531.75" x2="271.9" y2="533.8" stroke="#1c1c1c" stroke-width="0.8" />
<line x1="291.7" y1="531.75" x2="291.7" y2="533.8" stroke="#1c1c1c" stroke-width="0.8" />
<line x1="311.5" y1="531.75" x2="311.5" y2="533.8" stroke="#1c1c1c" stroke-width="0.8" />
<line x1="331.3" y1="531.75" x2="331.3" y2="533.8" stroke="#1c1c1c" stroke-width="0.8" />
<text x="252.5" y="544.3" font-size="6.6" fill="#333" stroke="#333" stroke-width="0.1" text-anchor="middle">5</text>
<text x="292.3" y="544.3" font-size="6.6" fill="#333" stroke="#333" stroke-width="0.1" text-anchor="middle">10</text>
<text x="331.2" y="544.3" font-size="6.6" fill="#333" stroke="#333" stroke-width="0.1" text-anchor="middle">15</text>
<text x="274" y="556.5" font-size="8.7" fill="#333" stroke="#333" stroke-width="0.22" text-anchor="middle" textLength="34" lengthAdjust="spacingAndGlyphs">Time (min)</text>
<path d="M212.5,531.6 C213.42,531.58 216.08,531.55 218,531.5 C219.92,531.45 222.2,531.45 224,531.3 C225.8,531.15 227.22,531.18 228.8,530.6 C230.38,530.02 231.95,529.13 233.5,527.8 C235.05,526.47 236.57,524.47 238.1,522.6 C239.63,520.73 241.17,518.72 242.7,516.6 C244.23,514.48 245.77,512.12 247.3,509.9 C248.83,507.68 250.23,505.58 251.9,503.3 C253.57,501.02 255.43,498.45 257.3,496.2 C259.17,493.95 261.37,491.35 263.1,489.8 C264.83,488.25 266.45,487.48 267.7,486.9 C268.95,486.32 269.63,486.1 270.6,486.3 C271.57,486.5 272.45,486.65 273.5,488.1 C274.55,489.55 275.75,492.7 276.9,495 C278.05,497.3 279.15,499.78 280.4,501.9 C281.65,504.02 283.05,505.8 284.4,507.7 C285.75,509.6 287.05,511.58 288.5,513.3 C289.95,515.02 291.18,516.48 293.1,518 C295.02,519.52 297.68,521.3 300,522.4 C302.32,523.5 304.5,523.97 307,524.6 C309.5,525.23 312.33,525.77 315,526.2 C317.67,526.63 320.5,526.97 323,527.2 C325.5,527.43 328.83,527.53 330,527.6" stroke="#1f4272" stroke-width="1.5" fill="none" stroke-linejoin="round" stroke-linecap="round" />
<path d="M212.5,532.2 C214.58,532.22 220.42,532.23 225,532.3 C229.58,532.37 236.5,532.4 240,532.6 C243.5,532.8 244.08,533.12 246,533.5 C247.92,533.88 249.62,534.2 251.5,534.9 C253.38,535.6 255.37,536.85 257.3,537.7 C259.23,538.55 260.98,539.33 263.1,540 C265.22,540.67 268.27,541.33 270,541.7 C271.73,542.07 272.35,542.58 273.5,542.2 C274.65,541.82 275.57,540.53 276.9,539.4 C278.23,538.27 279.57,536.35 281.5,535.4 C283.43,534.45 286.18,534.13 288.5,533.7 C290.82,533.27 291.82,533.03 295.4,532.8 C298.98,532.57 304.23,532.42 310,532.3 C315.77,532.18 326.67,532.13 330,532.1" stroke="#1f4272" stroke-width="1.5" fill="none" stroke-linejoin="round" stroke-linecap="round" />
<text x="298.8" y="501.2" font-size="6.8" fill="#3a5e92" stroke="#3a5e92" stroke-width="0.06" textLength="18.5" lengthAdjust="spacingAndGlyphs">shSCR</text>
<line x1="301.6" y1="503" x2="290.5" y2="511" stroke="#234a80" stroke-width="1.2" />
<path d="M288.4,512.6 L290.2,507.6 L293.4,511.7 Z" stroke="#234a80" stroke-width="0.5" fill="#234a80" stroke-linejoin="round" stroke-linecap="round" />
<text x="351" y="458" font-size="11.6" fill="#111" stroke="#111" stroke-width="0.35" font-weight="bold">L</text>
<text x="400.8" y="469.5" font-size="6.5" fill="#333" stroke="#333" stroke-width="0.08" textLength="15.5" lengthAdjust="spacingAndGlyphs">Hypo</text>
<line x1="400.8" y1="472.8" x2="513" y2="472.8" stroke="#cc5576" stroke-width="1.35" />
<path d="M404.9,477.7 L409.9,486.5 L409.6,487.63 A9.6,9.6 0 1 0 414.6,487.63 L414.3,486.5 L419.3,477.7" stroke="#1a1a1a" stroke-width="1.15" fill="none" stroke-linejoin="round" stroke-linecap="round" stroke-linecap="butt"/>
<text x="412.1" y="496" font-size="4.5" fill="#444" stroke="#444" stroke-width="0.05" text-anchor="middle" textLength="11.2" lengthAdjust="spacingAndGlyphs">50mM</text>
<text x="412.1" y="501.2" font-size="4.5" fill="#444" stroke="#444" stroke-width="0.05" text-anchor="middle" textLength="9.6" lengthAdjust="spacingAndGlyphs">ATPᴵⁿ</text>
<text x="400.2" y="513" font-size="6.1" fill="#333" stroke="#333" stroke-width="0.08" textLength="24.3" lengthAdjust="spacingAndGlyphs">MEG-01</text>
<line x1="394.5" y1="470" x2="394.5" y2="553.8" stroke="#1c1c1c" stroke-width="1.3" />
<line x1="392.3" y1="472" x2="394.5" y2="472" stroke="#1c1c1c" stroke-width="0.9" />
<text x="388.5" y="474.35" font-size="6.5" fill="#333" stroke="#333" stroke-width="0.1" text-anchor="end">3000</text>
<line x1="392.3" y1="491.9" x2="394.5" y2="491.9" stroke="#1c1c1c" stroke-width="0.9" />
<text x="388.5" y="494.25" font-size="6.5" fill="#333" stroke="#333" stroke-width="0.1" text-anchor="end">2000</text>
<line x1="392.3" y1="511.8" x2="394.5" y2="511.8" stroke="#1c1c1c" stroke-width="0.9" />
<text x="388.5" y="514.15" font-size="6.5" fill="#333" stroke="#333" stroke-width="0.1" text-anchor="end">1000</text>
<line x1="392.3" y1="531.75" x2="394.5" y2="531.75" stroke="#1c1c1c" stroke-width="0.9" />
<text x="388.5" y="534.1" font-size="6.5" fill="#333" stroke="#333" stroke-width="0.1" text-anchor="end">0</text>
<line x1="392.3" y1="551.7" x2="394.5" y2="551.7" stroke="#1c1c1c" stroke-width="0.9" />
<text x="388.5" y="554.05" font-size="6.5" fill="#333" stroke="#333" stroke-width="0.1" text-anchor="end">−1000</text>
<text transform="translate(365 512) rotate(-90)" font-size="9" fill="#333" stroke="#333" stroke-width="0.22" text-anchor="middle" textLength="37.8" lengthAdjust="spacingAndGlyphs">Current (pA)</text>
<path d="M394.5,530.99 L395.99,530.89 L397.48,531.19 L398.97,530.84 L400.46,531.12 L401.95,531.02 L403.44,530.83 L404.93,531.1 L406.42,530.82 L407.91,531.06 L409.4,530.84 L410.89,530.85 L412.38,531.05 L413.87,531.3 L415.36,530.87 L416.85,530.93 L418.34,531.18 L419.83,531.37 L421.32,531.15 L422.81,531.04 L424.3,531.39 L425.79,530.83 L427.28,531.32 L428.77,530.97 L430.26,530.89 L431.75,530.87 L433.24,530.99 L434.73,531.29 L436.22,530.91 L437.71,531.15 L439.2,531.18 L440.69,531.02 L442.18,531.13 L443.67,530.84 L445.16,530.84 L446.65,530.92 L448.14,531.21 L449.63,531.06 L451.12,530.99 L452.61,531.15 L454.1,531.07 L455.59,530.98 L457.08,531.28 L458.57,531.22 L460.06,530.95 L461.55,531.14 L463.04,531.12 L464.53,531.33 L466.02,531.24 L467.51,530.97 L469,531.39 L470.49,530.87 L471.98,531.05 L473.47,531.25 L474.96,530.89 L476.45,531.09 L477.94,530.82 L479.43,531.2 L480.92,531.26 L482.41,531.14 L483.9,531.33 L485.39,530.99 L486.88,531.22 L488.37,531.16 L489.86,531.15 L491.35,531.07 L492.84,531.3 L494.33,531.37 L495.82,531.08 L497.31,531.2 L498.8,530.84 L500.29,531.22 L501.78,531.19 L503.27,531.4 L504.76,531.29 L506.25,530.97 L507.74,531.03 L509.23,531.2 L510.72,530.81 L512.21,531.08" stroke="#8a1a36" stroke-width="2.0" fill="none" stroke-linejoin="round" stroke-linecap="round" />
<path d="M394.5,534.43 L395.99,534.41 L397.48,534.38 L398.97,534.73 L400.46,534.41 L401.95,534.47 L403.44,534.55 L404.93,534.79 L406.42,534.39 L407.91,534.57 L409.4,534.62 L410.89,534.79 L412.38,534.76 L413.87,534.78 L415.36,534.49 L416.85,534.56 L418.34,534.53 L419.83,534.79 L421.32,534.83 L422.81,534.43 L424.3,534.44 L425.79,534.47 L427.28,534.47 L428.77,534.59 L430.26,534.64 L431.75,534.48 L433.24,534.35 L434.73,534.56 L436.22,534.53 L437.71,534.63 L439.2,534.83 L440.69,534.7 L442.18,534.61 L443.67,534.66 L445.16,534.69 L446.65,534.38 L448.14,534.8 L449.63,534.74 L451.12,534.79 L452.61,534.75 L454.1,534.55 L455.59,534.55 L457.08,534.4 L458.57,534.67 L460.06,534.38 L461.55,534.38 L463.04,534.45 L464.53,534.43 L466.02,534.52 L467.51,534.38 L469,534.35 L470.49,534.43 L471.98,534.4 L473.47,534.53 L474.96,534.36 L476.45,534.79 L477.94,534.66 L479.43,534.42 L480.92,534.48 L482.41,534.52 L483.9,534.53 L485.39,534.41 L486.88,534.77 L488.37,534.85 L489.86,534.58 L491.35,534.59 L492.84,534.39 L494.33,534.4 L495.82,534.52 L497.31,534.48 L498.8,534.76 L500.29,534.43 L501.78,534.36 L503.27,534.83 L504.76,534.61 L506.25,534.42 L507.74,534.62 L509.23,534.36 L510.72,534.61 L512.21,534.84" stroke="#b0203f" stroke-width="1.1" fill="none" stroke-linejoin="round" stroke-linecap="round" />
<line x1="394.5" y1="531.75" x2="513" y2="531.75" stroke="#3a0d1c" stroke-width="0.7" />
<line x1="394.5" y1="530.5" x2="394.5" y2="533.6" stroke="#3a0d1c" stroke-width="0.8" />
<line x1="409.67" y1="530.5" x2="409.67" y2="533.6" stroke="#3a0d1c" stroke-width="0.8" />
<line x1="424.84" y1="530.5" x2="424.84" y2="533.6" stroke="#3a0d1c" stroke-width="0.8" />
<line x1="440.01" y1="530.5" x2="440.01" y2="533.6" stroke="#3a0d1c" stroke-width="0.8" />
<line x1="455.18" y1="530.5" x2="455.18" y2="533.6" stroke="#3a0d1c" stroke-width="0.8" />
<line x1="470.35" y1="530.5" x2="470.35" y2="533.6" stroke="#3a0d1c" stroke-width="0.8" />
<line x1="485.52" y1="530.5" x2="485.52" y2="533.6" stroke="#3a0d1c" stroke-width="0.8" />
<line x1="500.69" y1="530.5" x2="500.69" y2="533.6" stroke="#3a0d1c" stroke-width="0.8" />
<text x="440" y="544.3" font-size="6.6" fill="#333" stroke="#333" stroke-width="0.1" text-anchor="middle">5</text>
<text x="485" y="544.3" font-size="6.6" fill="#333" stroke="#333" stroke-width="0.1" text-anchor="middle">10</text>
<text x="454.2" y="556.5" font-size="8.7" fill="#333" stroke="#333" stroke-width="0.22" text-anchor="middle" textLength="34.3" lengthAdjust="spacingAndGlyphs">Time (min)</text>
<text x="455.5" y="516.2" font-size="6.8" fill="#c4294e" stroke="#c4294e" stroke-width="0.06" textLength="30.8" lengthAdjust="spacingAndGlyphs">shLRRC8A</text>
<line x1="457.8" y1="517.8" x2="451.2" y2="526.2" stroke="#b51d43" stroke-width="1.1" />
<path d="M449.3,528.8 L449.8,523.6 L453.8,526.4 Z" stroke="#b51d43" stroke-width="0.5" fill="#b51d43" stroke-linejoin="round" stroke-linecap="round" />
<text x="170" y="584" font-size="11.6" fill="#111" stroke="#111" stroke-width="0.35" font-weight="bold">M</text>
<line x1="271.5" y1="592.7" x2="271.5" y2="709.2" stroke="#1c1c1c" stroke-width="1.3" />
<line x1="269.3" y1="594.9" x2="271.5" y2="594.9" stroke="#1c1c1c" stroke-width="0.9" />
<text x="265.1" y="597.25" font-size="6.5" fill="#333" stroke="#333" stroke-width="0.1" text-anchor="end">80</text>
<line x1="269.3" y1="617.2" x2="271.5" y2="617.2" stroke="#1c1c1c" stroke-width="0.9" />
<text x="265.1" y="619.55" font-size="6.5" fill="#333" stroke="#333" stroke-width="0.1" text-anchor="end">60</text>
<line x1="269.3" y1="639.5" x2="271.5" y2="639.5" stroke="#1c1c1c" stroke-width="0.9" />
<text x="265.1" y="641.85" font-size="6.5" fill="#333" stroke="#333" stroke-width="0.1" text-anchor="end">40</text>
<line x1="269.3" y1="661.8" x2="271.5" y2="661.8" stroke="#1c1c1c" stroke-width="0.9" />
<text x="265.1" y="664.15" font-size="6.5" fill="#333" stroke="#333" stroke-width="0.1" text-anchor="end">20</text>
<line x1="269.3" y1="684.1" x2="271.5" y2="684.1" stroke="#1c1c1c" stroke-width="0.9" />
<line x1="269.3" y1="706.4" x2="271.5" y2="706.4" stroke="#1c1c1c" stroke-width="0.9" />
<text x="265.1" y="708.75" font-size="6.5" fill="#333" stroke="#333" stroke-width="0.1" text-anchor="end">−20</text>
<line x1="189.5" y1="684.1" x2="319.5" y2="684.1" stroke="#1c1c1c" stroke-width="1.3" />
<line x1="191" y1="684.1" x2="191" y2="686.5" stroke="#1c1c1c" stroke-width="0.8" />
<text transform="translate(191.8 692.1) rotate(-45)" font-size="6.8" fill="#333" stroke="#333" stroke-width="0.07" text-anchor="end">−140</text>
<line x1="202.5" y1="684.1" x2="202.5" y2="686.5" stroke="#1c1c1c" stroke-width="0.8" />
<text transform="translate(203.3 692.1) rotate(-45)" font-size="6.8" fill="#333" stroke="#333" stroke-width="0.07" text-anchor="end">−120</text>
<line x1="214" y1="684.1" x2="214" y2="686.5" stroke="#1c1c1c" stroke-width="0.8" />
<text transform="translate(214.8 692.1) rotate(-45)" font-size="6.8" fill="#333" stroke="#333" stroke-width="0.07" text-anchor="end">−100</text>
<line x1="225.5" y1="684.1" x2="225.5" y2="686.5" stroke="#1c1c1c" stroke-width="0.8" />
<text transform="translate(226.3 692.1) rotate(-45)" font-size="6.8" fill="#333" stroke="#333" stroke-width="0.07" text-anchor="end">−80</text>
<line x1="237" y1="684.1" x2="237" y2="686.5" stroke="#1c1c1c" stroke-width="0.8" />
<text transform="translate(237.8 692.1) rotate(-45)" font-size="6.8" fill="#333" stroke="#333" stroke-width="0.07" text-anchor="end">−60</text>
<line x1="248.5" y1="684.1" x2="248.5" y2="686.5" stroke="#1c1c1c" stroke-width="0.8" />
<text transform="translate(249.3 692.1) rotate(-45)" font-size="6.8" fill="#333" stroke="#333" stroke-width="0.07" text-anchor="end">−40</text>
<line x1="260" y1="684.1" x2="260" y2="686.5" stroke="#1c1c1c" stroke-width="0.8" />
<text transform="translate(260.8 692.1) rotate(-45)" font-size="6.8" fill="#333" stroke="#333" stroke-width="0.07" text-anchor="end">−20</text>
<line x1="283" y1="684.1" x2="283" y2="686.5" stroke="#1c1c1c" stroke-width="0.8" />
<text transform="translate(283.8 692.1) rotate(-45)" font-size="6.8" fill="#333" stroke="#333" stroke-width="0.07" text-anchor="end">20</text>
<line x1="294.5" y1="684.1" x2="294.5" y2="686.5" stroke="#1c1c1c" stroke-width="0.8" />
<text transform="translate(295.3 692.1) rotate(-45)" font-size="6.8" fill="#333" stroke="#333" stroke-width="0.07" text-anchor="end">40</text>
<line x1="306" y1="684.1" x2="306" y2="686.5" stroke="#1c1c1c" stroke-width="0.8" />
<text transform="translate(306.8 692.1) rotate(-45)" font-size="6.8" fill="#333" stroke="#333" stroke-width="0.07" text-anchor="end">60</text>
<line x1="317.5" y1="684.1" x2="317.5" y2="686.5" stroke="#1c1c1c" stroke-width="0.8" />
<text transform="translate(318.3 692.1) rotate(-45)" font-size="6.8" fill="#333" stroke="#333" stroke-width="0.07" text-anchor="end">80</text>
<text transform="translate(240.6 630) rotate(-90)" font-size="8.4" fill="#333" stroke="#333" stroke-width="0.22" text-anchor="middle" textLength="48" lengthAdjust="spacingAndGlyphs">Current density</text>
<text transform="translate(251.6 630.1) rotate(-90)" font-size="8.4" fill="#333" stroke="#333" stroke-width="0.22" text-anchor="middle" textLength="22" lengthAdjust="spacingAndGlyphs">(pA/pF)</text>
<text x="275.2" y="710.7" font-size="8.6" fill="#333" stroke="#333" stroke-width="0.22" textLength="40.2" lengthAdjust="spacingAndGlyphs">Voltage (mV)</text>
<path d="M189.5,683.3 C196.25,683.28 216.33,683.23 230,683.2 C243.67,683.17 259.83,683.15 271.5,683.1 C283.17,683.05 292.25,682.98 300,682.9 C307.75,682.82 315,682.65 318,682.6" stroke="#b01c42" stroke-width="1.8" fill="none" stroke-linejoin="round" stroke-linecap="round" />
<path d="M192.9,702.3 C194.92,701.78 200.65,700.32 205,699.2 C209.35,698.08 214.67,696.72 219,695.6 C223.33,694.48 227.08,693.53 231,692.5 C234.92,691.47 239,690.45 242.5,689.4 C246,688.35 249.08,687.3 252,686.2 C254.92,685.1 257.73,684.05 260,682.8 C262.27,681.55 263.63,680.32 265.6,678.7 C267.57,677.08 269.95,674.68 271.8,673.1 C273.65,671.52 274.97,670.78 276.7,669.2 C278.43,667.62 280.35,665.68 282.2,663.6 C284.05,661.52 285.95,659.25 287.8,656.7 C289.65,654.15 291.45,651.32 293.3,648.3 C295.15,645.28 297.05,642.07 298.9,638.6 C300.75,635.13 302.55,631.43 304.4,627.5 C306.25,623.57 308.37,618.7 310,615 C311.63,611.3 313,608.42 314.2,605.3 C315.4,602.18 316.7,597.8 317.2,596.3" stroke="#36659c" stroke-width="1.1" fill="none" stroke-linejoin="round" stroke-linecap="round" />
<text x="302" y="645.6" font-size="6.8" fill="#3d69a0" stroke="#3d69a0" stroke-width="0.06" textLength="18.5" lengthAdjust="spacingAndGlyphs">shSCR</text>
<text x="284.5" y="680.2" font-size="6.8" fill="#c4294e" stroke="#c4294e" stroke-width="0.06" textLength="30.5" lengthAdjust="spacingAndGlyphs">shLRRC8A</text>
<text x="351" y="584" font-size="11.6" fill="#111" stroke="#111" stroke-width="0.35" font-weight="bold">N</text>
<text transform="translate(437 601) rotate(-45)" font-size="6.6" fill="#333" stroke="#333" stroke-width="0.08" textLength="21" lengthAdjust="spacingAndGlyphs">shSCR</text>
<text transform="translate(465 601) rotate(-45)" font-size="6.6" fill="#333" stroke="#333" stroke-width="0.08" textLength="34" lengthAdjust="spacingAndGlyphs">shLRRC8A</text>
<rect x="430.3" y="605.8" width="16.9" height="34.2" fill="#84a3c4" />
<rect x="454.5" y="605.8" width="18" height="4.6" fill="#e8849a" />
<line x1="438.5" y1="630" x2="438.5" y2="651.2" stroke="#3d66a3" stroke-width="0.8" />
<line x1="436" y1="651.2" x2="441" y2="651.2" stroke="#3d66a3" stroke-width="0.8" />
<circle cx="438.3" cy="615" r="1.95" stroke="#3d66a3" stroke-width="0.95" fill="none"/>
<circle cx="438.3" cy="620.8" r="1.95" stroke="#3d66a3" stroke-width="0.95" fill="none"/>
<circle cx="434.5" cy="630.5" r="1.95" stroke="#3d66a3" stroke-width="0.95" fill="none"/>
<circle cx="442.5" cy="633.8" r="1.95" stroke="#3d66a3" stroke-width="0.95" fill="none"/>
<circle cx="438.3" cy="642" r="1.95" stroke="#3d66a3" stroke-width="0.95" fill="none"/>
<circle cx="438.3" cy="646.8" r="1.95" stroke="#3d66a3" stroke-width="0.95" fill="none"/>
<circle cx="438.3" cy="697" r="1.95" stroke="#3d66a3" stroke-width="0.95" fill="none"/>
<circle cx="458" cy="608.6" r="1.95" stroke="#c9304f" stroke-width="0.95" fill="none"/>
<circle cx="466" cy="608.6" r="1.95" stroke="#c9304f" stroke-width="0.95" fill="none"/>
<circle cx="462" cy="608.4" r="1.95" stroke="#c9304f" stroke-width="0.95" fill="none"/>
<circle cx="455.8" cy="611.8" r="1.95" stroke="#c9304f" stroke-width="0.95" fill="none"/>
<circle cx="459.2" cy="613.8" r="1.95" stroke="#c9304f" stroke-width="0.95" fill="none"/>
<circle cx="461.8" cy="614.4" r="1.95" stroke="#c9304f" stroke-width="0.95" fill="none"/>
<circle cx="464.7" cy="613.3" r="1.95" stroke="#c9304f" stroke-width="0.95" fill="none"/>
<circle cx="467.9" cy="614.7" r="1.95" stroke="#c9304f" stroke-width="0.95" fill="none"/>
<circle cx="470.5" cy="611.8" r="1.95" stroke="#c9304f" stroke-width="0.95" fill="none"/>
<circle cx="463.3" cy="621.1" r="1.95" stroke="#c9304f" stroke-width="0.95" fill="none"/>
<line x1="420" y1="605.8" x2="482" y2="605.8" stroke="#1c1c1c" stroke-width="1.2" />
<line x1="438.5" y1="602.8" x2="438.5" y2="605.8" stroke="#1c1c1c" stroke-width="0.9" />
<line x1="463.5" y1="602.8" x2="463.5" y2="605.8" stroke="#1c1c1c" stroke-width="0.9" />
<line x1="419.5" y1="605.8" x2="419.5" y2="705.6" stroke="#1c1c1c" stroke-width="1.3" />
<line x1="417.1" y1="605.8" x2="419.5" y2="605.8" stroke="#1c1c1c" stroke-width="0.9" />
<text x="413.9" y="608.15" font-size="6.9" fill="#333" stroke="#333" stroke-width="0.1" text-anchor="end">0</text>
<line x1="417.1" y1="630.5" x2="419.5" y2="630.5" stroke="#1c1c1c" stroke-width="0.9" />
<text x="413.9" y="632.85" font-size="6.9" fill="#333" stroke="#333" stroke-width="0.1" text-anchor="end">−20</text>
<line x1="417.1" y1="655" x2="419.5" y2="655" stroke="#1c1c1c" stroke-width="0.9" />
<text x="413.9" y="657.35" font-size="6.9" fill="#333" stroke="#333" stroke-width="0.1" text-anchor="end">−40</text>
<line x1="417.1" y1="679.5" x2="419.5" y2="679.5" stroke="#1c1c1c" stroke-width="0.9" />
<text x="413.9" y="681.85" font-size="6.9" fill="#333" stroke="#333" stroke-width="0.1" text-anchor="end">−60</text>
<line x1="417.1" y1="703.9" x2="419.5" y2="703.9" stroke="#1c1c1c" stroke-width="0.9" />
<text x="413.9" y="706.25" font-size="6.9" fill="#333" stroke="#333" stroke-width="0.1" text-anchor="end">−80</text>
<text transform="translate(397.6 656.8) rotate(-90)" font-size="9" fill="#333" stroke="#333" stroke-width="0.22" text-anchor="middle" textLength="106.5" lengthAdjust="spacingAndGlyphs">Current density at -140mV (pA/pF)</text>
<path d="M437.5,704.5 L437.5,707.5 L464.5,707.5 L464.5,704.5" stroke="#333" stroke-width="0.9" fill="none" stroke-linejoin="round" stroke-linecap="round" stroke-linejoin="miter" stroke-linecap="butt"/>
<text x="450.8" y="714.8" font-size="7" fill="#333" stroke="#333" stroke-width="0.22" text-anchor="middle">*</text>
<rect x="0.5" y="0.5" width="519" height="719" fill="none" stroke="#444" stroke-width="1"/>
</svg>
</body></html>
